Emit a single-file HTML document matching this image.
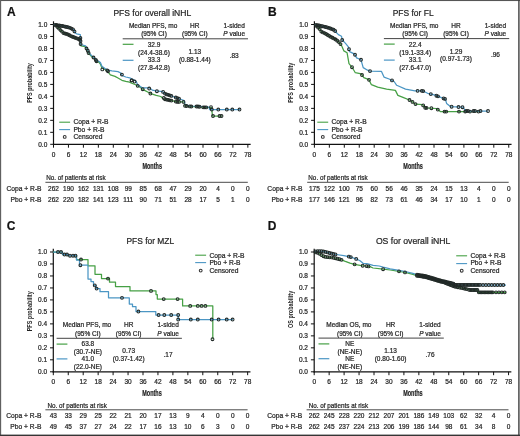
<!DOCTYPE html>
<html><head><meta charset="utf-8"><style>
html,body{margin:0;padding:0;background:#fff;}
body{width:520px;height:436px;overflow:hidden;position:relative;}
svg{position:absolute;left:0;top:0;font-family:"Liberation Sans", sans-serif;will-change:transform;}
text{stroke:#2a2a2a;stroke-width:0.22px;}
.frame{position:absolute;left:0;top:0;width:520px;height:436px;box-sizing:border-box;border-style:solid;border-color:#5a5a5a #7a7a7a #3a3a3a #6a6a6a;border-width:1px 1px 1.5px 1.5px;}
</style></head><body>
<svg width="520" height="436" viewBox="0 0 520 436">
<text x="7.00" y="15.60" font-size="12" text-anchor="start" font-weight="bold" fill="#111" >A</text>
<text x="152.30" y="16.30" font-size="8.5" text-anchor="middle" font-weight="normal" fill="#222" textLength="77.8" lengthAdjust="spacingAndGlyphs">PFS for overall iNHL</text>
<line x1="53.50" y1="21.30" x2="53.50" y2="144.90" stroke="#111" stroke-width="1.2" />
<line x1="52.90" y1="144.30" x2="250.65" y2="144.30" stroke="#111" stroke-width="1.3" />
<line x1="50.20" y1="144.30" x2="53.50" y2="144.30" stroke="#111" stroke-width="1.0" />
<text x="47.30" y="146.60" font-size="6.5" text-anchor="end" font-weight="normal" fill="#222" >0.0</text>
<line x1="50.20" y1="132.32" x2="53.50" y2="132.32" stroke="#111" stroke-width="1.0" />
<text x="47.30" y="134.62" font-size="6.5" text-anchor="end" font-weight="normal" fill="#222" >0.1</text>
<line x1="50.20" y1="120.34" x2="53.50" y2="120.34" stroke="#111" stroke-width="1.0" />
<text x="47.30" y="122.64" font-size="6.5" text-anchor="end" font-weight="normal" fill="#222" >0.2</text>
<line x1="50.20" y1="108.36" x2="53.50" y2="108.36" stroke="#111" stroke-width="1.0" />
<text x="47.30" y="110.66" font-size="6.5" text-anchor="end" font-weight="normal" fill="#222" >0.3</text>
<line x1="50.20" y1="96.38" x2="53.50" y2="96.38" stroke="#111" stroke-width="1.0" />
<text x="47.30" y="98.68" font-size="6.5" text-anchor="end" font-weight="normal" fill="#222" >0.4</text>
<line x1="50.20" y1="84.40" x2="53.50" y2="84.40" stroke="#111" stroke-width="1.0" />
<text x="47.30" y="86.70" font-size="6.5" text-anchor="end" font-weight="normal" fill="#222" >0.5</text>
<line x1="50.20" y1="72.42" x2="53.50" y2="72.42" stroke="#111" stroke-width="1.0" />
<text x="47.30" y="74.72" font-size="6.5" text-anchor="end" font-weight="normal" fill="#222" >0.6</text>
<line x1="50.20" y1="60.44" x2="53.50" y2="60.44" stroke="#111" stroke-width="1.0" />
<text x="47.30" y="62.74" font-size="6.5" text-anchor="end" font-weight="normal" fill="#222" >0.7</text>
<line x1="50.20" y1="48.46" x2="53.50" y2="48.46" stroke="#111" stroke-width="1.0" />
<text x="47.30" y="50.76" font-size="6.5" text-anchor="end" font-weight="normal" fill="#222" >0.8</text>
<line x1="50.20" y1="36.48" x2="53.50" y2="36.48" stroke="#111" stroke-width="1.0" />
<text x="47.30" y="38.78" font-size="6.5" text-anchor="end" font-weight="normal" fill="#222" >0.9</text>
<line x1="50.20" y1="24.50" x2="53.50" y2="24.50" stroke="#111" stroke-width="1.0" />
<text x="47.30" y="26.80" font-size="6.5" text-anchor="end" font-weight="normal" fill="#222" >1.0</text>
<line x1="53.50" y1="144.30" x2="53.50" y2="147.70" stroke="#111" stroke-width="1.0" />
<text x="53.50" y="156.60" font-size="6.5" text-anchor="middle" font-weight="normal" fill="#222" >0</text>
<line x1="68.45" y1="144.30" x2="68.45" y2="147.70" stroke="#111" stroke-width="1.0" />
<text x="68.45" y="156.60" font-size="6.5" text-anchor="middle" font-weight="normal" fill="#222" >6</text>
<line x1="83.40" y1="144.30" x2="83.40" y2="147.70" stroke="#111" stroke-width="1.0" />
<text x="83.40" y="156.60" font-size="6.5" text-anchor="middle" font-weight="normal" fill="#222" >12</text>
<line x1="98.35" y1="144.30" x2="98.35" y2="147.70" stroke="#111" stroke-width="1.0" />
<text x="98.35" y="156.60" font-size="6.5" text-anchor="middle" font-weight="normal" fill="#222" >18</text>
<line x1="113.30" y1="144.30" x2="113.30" y2="147.70" stroke="#111" stroke-width="1.0" />
<text x="113.30" y="156.60" font-size="6.5" text-anchor="middle" font-weight="normal" fill="#222" >24</text>
<line x1="128.25" y1="144.30" x2="128.25" y2="147.70" stroke="#111" stroke-width="1.0" />
<text x="128.25" y="156.60" font-size="6.5" text-anchor="middle" font-weight="normal" fill="#222" >30</text>
<line x1="143.20" y1="144.30" x2="143.20" y2="147.70" stroke="#111" stroke-width="1.0" />
<text x="143.20" y="156.60" font-size="6.5" text-anchor="middle" font-weight="normal" fill="#222" >36</text>
<line x1="158.15" y1="144.30" x2="158.15" y2="147.70" stroke="#111" stroke-width="1.0" />
<text x="158.15" y="156.60" font-size="6.5" text-anchor="middle" font-weight="normal" fill="#222" >42</text>
<line x1="173.10" y1="144.30" x2="173.10" y2="147.70" stroke="#111" stroke-width="1.0" />
<text x="173.10" y="156.60" font-size="6.5" text-anchor="middle" font-weight="normal" fill="#222" >48</text>
<line x1="188.05" y1="144.30" x2="188.05" y2="147.70" stroke="#111" stroke-width="1.0" />
<text x="188.05" y="156.60" font-size="6.5" text-anchor="middle" font-weight="normal" fill="#222" >54</text>
<line x1="203.00" y1="144.30" x2="203.00" y2="147.70" stroke="#111" stroke-width="1.0" />
<text x="203.00" y="156.60" font-size="6.5" text-anchor="middle" font-weight="normal" fill="#222" >60</text>
<line x1="217.95" y1="144.30" x2="217.95" y2="147.70" stroke="#111" stroke-width="1.0" />
<text x="217.95" y="156.60" font-size="6.5" text-anchor="middle" font-weight="normal" fill="#222" >66</text>
<line x1="232.90" y1="144.30" x2="232.90" y2="147.70" stroke="#111" stroke-width="1.0" />
<text x="232.90" y="156.60" font-size="6.5" text-anchor="middle" font-weight="normal" fill="#222" >72</text>
<line x1="247.85" y1="144.30" x2="247.85" y2="147.70" stroke="#111" stroke-width="1.0" />
<text x="247.85" y="156.60" font-size="6.5" text-anchor="middle" font-weight="normal" fill="#222" >78</text>
<text x="152.20" y="168.80" font-size="8.2" text-anchor="middle" font-weight="bold" fill="#222" textLength="19.5" lengthAdjust="spacingAndGlyphs">Months</text>
<text x="0" y="0" font-size="7.9" font-weight="bold" text-anchor="middle" fill="#222" style="stroke-width:0" transform="translate(31.7,83.0) rotate(-90)" textLength="39.7" lengthAdjust="spacingAndGlyphs">PFS probability</text>
<text x="46.20" y="180.00" font-size="6.5" text-anchor="start" font-weight="normal" fill="#222" textLength="59.4" lengthAdjust="spacingAndGlyphs">No. of patients at risk</text>
<line x1="45.40" y1="182.30" x2="247.80" y2="182.30" stroke="#4a4a4a" stroke-width="1.0" />
<text x="41.60" y="190.80" font-size="6.7" text-anchor="end" font-weight="normal" fill="#222" >Copa + R-B</text>
<text x="41.60" y="201.50" font-size="6.7" text-anchor="end" font-weight="normal" fill="#222" >Pbo + R-B</text>
<text x="53.50" y="190.80" font-size="6.5" text-anchor="middle" font-weight="normal" fill="#222" >262</text>
<text x="53.50" y="201.50" font-size="6.5" text-anchor="middle" font-weight="normal" fill="#222" >262</text>
<text x="68.45" y="190.80" font-size="6.5" text-anchor="middle" font-weight="normal" fill="#222" >190</text>
<text x="68.45" y="201.50" font-size="6.5" text-anchor="middle" font-weight="normal" fill="#222" >220</text>
<text x="83.40" y="190.80" font-size="6.5" text-anchor="middle" font-weight="normal" fill="#222" >162</text>
<text x="83.40" y="201.50" font-size="6.5" text-anchor="middle" font-weight="normal" fill="#222" >182</text>
<text x="98.35" y="190.80" font-size="6.5" text-anchor="middle" font-weight="normal" fill="#222" >131</text>
<text x="98.35" y="201.50" font-size="6.5" text-anchor="middle" font-weight="normal" fill="#222" >141</text>
<text x="113.30" y="190.80" font-size="6.5" text-anchor="middle" font-weight="normal" fill="#222" >108</text>
<text x="113.30" y="201.50" font-size="6.5" text-anchor="middle" font-weight="normal" fill="#222" >123</text>
<text x="128.25" y="190.80" font-size="6.5" text-anchor="middle" font-weight="normal" fill="#222" >99</text>
<text x="128.25" y="201.50" font-size="6.5" text-anchor="middle" font-weight="normal" fill="#222" >111</text>
<text x="143.20" y="190.80" font-size="6.5" text-anchor="middle" font-weight="normal" fill="#222" >85</text>
<text x="143.20" y="201.50" font-size="6.5" text-anchor="middle" font-weight="normal" fill="#222" >90</text>
<text x="158.15" y="190.80" font-size="6.5" text-anchor="middle" font-weight="normal" fill="#222" >68</text>
<text x="158.15" y="201.50" font-size="6.5" text-anchor="middle" font-weight="normal" fill="#222" >71</text>
<text x="173.10" y="190.80" font-size="6.5" text-anchor="middle" font-weight="normal" fill="#222" >47</text>
<text x="173.10" y="201.50" font-size="6.5" text-anchor="middle" font-weight="normal" fill="#222" >51</text>
<text x="188.05" y="190.80" font-size="6.5" text-anchor="middle" font-weight="normal" fill="#222" >29</text>
<text x="188.05" y="201.50" font-size="6.5" text-anchor="middle" font-weight="normal" fill="#222" >28</text>
<text x="203.00" y="190.80" font-size="6.5" text-anchor="middle" font-weight="normal" fill="#222" >20</text>
<text x="203.00" y="201.50" font-size="6.5" text-anchor="middle" font-weight="normal" fill="#222" >17</text>
<text x="217.95" y="190.80" font-size="6.5" text-anchor="middle" font-weight="normal" fill="#222" >4</text>
<text x="217.95" y="201.50" font-size="6.5" text-anchor="middle" font-weight="normal" fill="#222" >5</text>
<text x="232.90" y="190.80" font-size="6.5" text-anchor="middle" font-weight="normal" fill="#222" >0</text>
<text x="232.90" y="201.50" font-size="6.5" text-anchor="middle" font-weight="normal" fill="#222" >1</text>
<text x="247.85" y="190.80" font-size="6.5" text-anchor="middle" font-weight="normal" fill="#222" >0</text>
<text x="247.85" y="201.50" font-size="6.5" text-anchor="middle" font-weight="normal" fill="#222" >0</text>
<text x="267.90" y="15.60" font-size="12" text-anchor="start" font-weight="bold" fill="#111" >B</text>
<text x="413.15" y="16.30" font-size="8.5" text-anchor="middle" font-weight="normal" fill="#222" textLength="40.9" lengthAdjust="spacingAndGlyphs">PFS for FL</text>
<line x1="314.40" y1="21.30" x2="314.40" y2="144.90" stroke="#111" stroke-width="1.2" />
<line x1="313.80" y1="144.30" x2="511.55" y2="144.30" stroke="#111" stroke-width="1.3" />
<line x1="311.10" y1="144.30" x2="314.40" y2="144.30" stroke="#111" stroke-width="1.0" />
<text x="308.20" y="146.60" font-size="6.5" text-anchor="end" font-weight="normal" fill="#222" >0.0</text>
<line x1="311.10" y1="132.32" x2="314.40" y2="132.32" stroke="#111" stroke-width="1.0" />
<text x="308.20" y="134.62" font-size="6.5" text-anchor="end" font-weight="normal" fill="#222" >0.1</text>
<line x1="311.10" y1="120.34" x2="314.40" y2="120.34" stroke="#111" stroke-width="1.0" />
<text x="308.20" y="122.64" font-size="6.5" text-anchor="end" font-weight="normal" fill="#222" >0.2</text>
<line x1="311.10" y1="108.36" x2="314.40" y2="108.36" stroke="#111" stroke-width="1.0" />
<text x="308.20" y="110.66" font-size="6.5" text-anchor="end" font-weight="normal" fill="#222" >0.3</text>
<line x1="311.10" y1="96.38" x2="314.40" y2="96.38" stroke="#111" stroke-width="1.0" />
<text x="308.20" y="98.68" font-size="6.5" text-anchor="end" font-weight="normal" fill="#222" >0.4</text>
<line x1="311.10" y1="84.40" x2="314.40" y2="84.40" stroke="#111" stroke-width="1.0" />
<text x="308.20" y="86.70" font-size="6.5" text-anchor="end" font-weight="normal" fill="#222" >0.5</text>
<line x1="311.10" y1="72.42" x2="314.40" y2="72.42" stroke="#111" stroke-width="1.0" />
<text x="308.20" y="74.72" font-size="6.5" text-anchor="end" font-weight="normal" fill="#222" >0.6</text>
<line x1="311.10" y1="60.44" x2="314.40" y2="60.44" stroke="#111" stroke-width="1.0" />
<text x="308.20" y="62.74" font-size="6.5" text-anchor="end" font-weight="normal" fill="#222" >0.7</text>
<line x1="311.10" y1="48.46" x2="314.40" y2="48.46" stroke="#111" stroke-width="1.0" />
<text x="308.20" y="50.76" font-size="6.5" text-anchor="end" font-weight="normal" fill="#222" >0.8</text>
<line x1="311.10" y1="36.48" x2="314.40" y2="36.48" stroke="#111" stroke-width="1.0" />
<text x="308.20" y="38.78" font-size="6.5" text-anchor="end" font-weight="normal" fill="#222" >0.9</text>
<line x1="311.10" y1="24.50" x2="314.40" y2="24.50" stroke="#111" stroke-width="1.0" />
<text x="308.20" y="26.80" font-size="6.5" text-anchor="end" font-weight="normal" fill="#222" >1.0</text>
<line x1="314.40" y1="144.30" x2="314.40" y2="147.70" stroke="#111" stroke-width="1.0" />
<text x="314.40" y="156.60" font-size="6.5" text-anchor="middle" font-weight="normal" fill="#222" >0</text>
<line x1="329.35" y1="144.30" x2="329.35" y2="147.70" stroke="#111" stroke-width="1.0" />
<text x="329.35" y="156.60" font-size="6.5" text-anchor="middle" font-weight="normal" fill="#222" >6</text>
<line x1="344.30" y1="144.30" x2="344.30" y2="147.70" stroke="#111" stroke-width="1.0" />
<text x="344.30" y="156.60" font-size="6.5" text-anchor="middle" font-weight="normal" fill="#222" >12</text>
<line x1="359.25" y1="144.30" x2="359.25" y2="147.70" stroke="#111" stroke-width="1.0" />
<text x="359.25" y="156.60" font-size="6.5" text-anchor="middle" font-weight="normal" fill="#222" >18</text>
<line x1="374.20" y1="144.30" x2="374.20" y2="147.70" stroke="#111" stroke-width="1.0" />
<text x="374.20" y="156.60" font-size="6.5" text-anchor="middle" font-weight="normal" fill="#222" >24</text>
<line x1="389.15" y1="144.30" x2="389.15" y2="147.70" stroke="#111" stroke-width="1.0" />
<text x="389.15" y="156.60" font-size="6.5" text-anchor="middle" font-weight="normal" fill="#222" >30</text>
<line x1="404.10" y1="144.30" x2="404.10" y2="147.70" stroke="#111" stroke-width="1.0" />
<text x="404.10" y="156.60" font-size="6.5" text-anchor="middle" font-weight="normal" fill="#222" >36</text>
<line x1="419.05" y1="144.30" x2="419.05" y2="147.70" stroke="#111" stroke-width="1.0" />
<text x="419.05" y="156.60" font-size="6.5" text-anchor="middle" font-weight="normal" fill="#222" >42</text>
<line x1="434.00" y1="144.30" x2="434.00" y2="147.70" stroke="#111" stroke-width="1.0" />
<text x="434.00" y="156.60" font-size="6.5" text-anchor="middle" font-weight="normal" fill="#222" >48</text>
<line x1="448.95" y1="144.30" x2="448.95" y2="147.70" stroke="#111" stroke-width="1.0" />
<text x="448.95" y="156.60" font-size="6.5" text-anchor="middle" font-weight="normal" fill="#222" >54</text>
<line x1="463.90" y1="144.30" x2="463.90" y2="147.70" stroke="#111" stroke-width="1.0" />
<text x="463.90" y="156.60" font-size="6.5" text-anchor="middle" font-weight="normal" fill="#222" >60</text>
<line x1="478.85" y1="144.30" x2="478.85" y2="147.70" stroke="#111" stroke-width="1.0" />
<text x="478.85" y="156.60" font-size="6.5" text-anchor="middle" font-weight="normal" fill="#222" >66</text>
<line x1="493.80" y1="144.30" x2="493.80" y2="147.70" stroke="#111" stroke-width="1.0" />
<text x="493.80" y="156.60" font-size="6.5" text-anchor="middle" font-weight="normal" fill="#222" >72</text>
<line x1="508.75" y1="144.30" x2="508.75" y2="147.70" stroke="#111" stroke-width="1.0" />
<text x="508.75" y="156.60" font-size="6.5" text-anchor="middle" font-weight="normal" fill="#222" >78</text>
<text x="413.10" y="168.80" font-size="8.2" text-anchor="middle" font-weight="bold" fill="#222" textLength="19.5" lengthAdjust="spacingAndGlyphs">Months</text>
<text x="0" y="0" font-size="7.9" font-weight="bold" text-anchor="middle" fill="#222" style="stroke-width:0" transform="translate(292.7,82.7) rotate(-90)" textLength="40.0" lengthAdjust="spacingAndGlyphs">PFS probability</text>
<text x="308.30" y="180.00" font-size="6.5" text-anchor="start" font-weight="normal" fill="#222" textLength="59.4" lengthAdjust="spacingAndGlyphs">No. of patients at risk</text>
<line x1="307.20" y1="182.30" x2="508.70" y2="182.30" stroke="#4a4a4a" stroke-width="1.0" />
<text x="302.50" y="190.80" font-size="6.7" text-anchor="end" font-weight="normal" fill="#222" >Copa + R-B</text>
<text x="302.50" y="201.50" font-size="6.7" text-anchor="end" font-weight="normal" fill="#222" >Pbo + R-B</text>
<text x="314.40" y="190.80" font-size="6.5" text-anchor="middle" font-weight="normal" fill="#222" >175</text>
<text x="314.40" y="201.50" font-size="6.5" text-anchor="middle" font-weight="normal" fill="#222" >177</text>
<text x="329.35" y="190.80" font-size="6.5" text-anchor="middle" font-weight="normal" fill="#222" >122</text>
<text x="329.35" y="201.50" font-size="6.5" text-anchor="middle" font-weight="normal" fill="#222" >146</text>
<text x="344.30" y="190.80" font-size="6.5" text-anchor="middle" font-weight="normal" fill="#222" >100</text>
<text x="344.30" y="201.50" font-size="6.5" text-anchor="middle" font-weight="normal" fill="#222" >121</text>
<text x="359.25" y="190.80" font-size="6.5" text-anchor="middle" font-weight="normal" fill="#222" >75</text>
<text x="359.25" y="201.50" font-size="6.5" text-anchor="middle" font-weight="normal" fill="#222" >96</text>
<text x="374.20" y="190.80" font-size="6.5" text-anchor="middle" font-weight="normal" fill="#222" >60</text>
<text x="374.20" y="201.50" font-size="6.5" text-anchor="middle" font-weight="normal" fill="#222" >82</text>
<text x="389.15" y="190.80" font-size="6.5" text-anchor="middle" font-weight="normal" fill="#222" >56</text>
<text x="389.15" y="201.50" font-size="6.5" text-anchor="middle" font-weight="normal" fill="#222" >73</text>
<text x="404.10" y="190.80" font-size="6.5" text-anchor="middle" font-weight="normal" fill="#222" >46</text>
<text x="404.10" y="201.50" font-size="6.5" text-anchor="middle" font-weight="normal" fill="#222" >61</text>
<text x="419.05" y="190.80" font-size="6.5" text-anchor="middle" font-weight="normal" fill="#222" >35</text>
<text x="419.05" y="201.50" font-size="6.5" text-anchor="middle" font-weight="normal" fill="#222" >46</text>
<text x="434.00" y="190.80" font-size="6.5" text-anchor="middle" font-weight="normal" fill="#222" >24</text>
<text x="434.00" y="201.50" font-size="6.5" text-anchor="middle" font-weight="normal" fill="#222" >34</text>
<text x="448.95" y="190.80" font-size="6.5" text-anchor="middle" font-weight="normal" fill="#222" >15</text>
<text x="448.95" y="201.50" font-size="6.5" text-anchor="middle" font-weight="normal" fill="#222" >17</text>
<text x="463.90" y="190.80" font-size="6.5" text-anchor="middle" font-weight="normal" fill="#222" >13</text>
<text x="463.90" y="201.50" font-size="6.5" text-anchor="middle" font-weight="normal" fill="#222" >10</text>
<text x="478.85" y="190.80" font-size="6.5" text-anchor="middle" font-weight="normal" fill="#222" >4</text>
<text x="478.85" y="201.50" font-size="6.5" text-anchor="middle" font-weight="normal" fill="#222" >1</text>
<text x="493.80" y="190.80" font-size="6.5" text-anchor="middle" font-weight="normal" fill="#222" >0</text>
<text x="493.80" y="201.50" font-size="6.5" text-anchor="middle" font-weight="normal" fill="#222" >0</text>
<text x="508.75" y="190.80" font-size="6.5" text-anchor="middle" font-weight="normal" fill="#222" >0</text>
<text x="508.75" y="201.50" font-size="6.5" text-anchor="middle" font-weight="normal" fill="#222" >0</text>
<text x="6.80" y="229.50" font-size="12" text-anchor="start" font-weight="bold" fill="#111" >C</text>
<text x="150.35" y="243.80" font-size="8.5" text-anchor="middle" font-weight="normal" fill="#222" textLength="47.7" lengthAdjust="spacingAndGlyphs">PFS for MZL</text>
<line x1="53.30" y1="248.80" x2="53.30" y2="372.40" stroke="#111" stroke-width="1.2" />
<line x1="52.70" y1="371.80" x2="250.45" y2="371.80" stroke="#111" stroke-width="1.3" />
<line x1="50.00" y1="371.80" x2="53.30" y2="371.80" stroke="#111" stroke-width="1.0" />
<text x="47.10" y="374.10" font-size="6.5" text-anchor="end" font-weight="normal" fill="#222" >0.0</text>
<line x1="50.00" y1="359.82" x2="53.30" y2="359.82" stroke="#111" stroke-width="1.0" />
<text x="47.10" y="362.12" font-size="6.5" text-anchor="end" font-weight="normal" fill="#222" >0.1</text>
<line x1="50.00" y1="347.84" x2="53.30" y2="347.84" stroke="#111" stroke-width="1.0" />
<text x="47.10" y="350.14" font-size="6.5" text-anchor="end" font-weight="normal" fill="#222" >0.2</text>
<line x1="50.00" y1="335.86" x2="53.30" y2="335.86" stroke="#111" stroke-width="1.0" />
<text x="47.10" y="338.16" font-size="6.5" text-anchor="end" font-weight="normal" fill="#222" >0.3</text>
<line x1="50.00" y1="323.88" x2="53.30" y2="323.88" stroke="#111" stroke-width="1.0" />
<text x="47.10" y="326.18" font-size="6.5" text-anchor="end" font-weight="normal" fill="#222" >0.4</text>
<line x1="50.00" y1="311.90" x2="53.30" y2="311.90" stroke="#111" stroke-width="1.0" />
<text x="47.10" y="314.20" font-size="6.5" text-anchor="end" font-weight="normal" fill="#222" >0.5</text>
<line x1="50.00" y1="299.92" x2="53.30" y2="299.92" stroke="#111" stroke-width="1.0" />
<text x="47.10" y="302.22" font-size="6.5" text-anchor="end" font-weight="normal" fill="#222" >0.6</text>
<line x1="50.00" y1="287.94" x2="53.30" y2="287.94" stroke="#111" stroke-width="1.0" />
<text x="47.10" y="290.24" font-size="6.5" text-anchor="end" font-weight="normal" fill="#222" >0.7</text>
<line x1="50.00" y1="275.96" x2="53.30" y2="275.96" stroke="#111" stroke-width="1.0" />
<text x="47.10" y="278.26" font-size="6.5" text-anchor="end" font-weight="normal" fill="#222" >0.8</text>
<line x1="50.00" y1="263.98" x2="53.30" y2="263.98" stroke="#111" stroke-width="1.0" />
<text x="47.10" y="266.28" font-size="6.5" text-anchor="end" font-weight="normal" fill="#222" >0.9</text>
<line x1="50.00" y1="252.00" x2="53.30" y2="252.00" stroke="#111" stroke-width="1.0" />
<text x="47.10" y="254.30" font-size="6.5" text-anchor="end" font-weight="normal" fill="#222" >1.0</text>
<line x1="53.30" y1="371.80" x2="53.30" y2="375.20" stroke="#111" stroke-width="1.0" />
<text x="53.30" y="384.10" font-size="6.5" text-anchor="middle" font-weight="normal" fill="#222" >0</text>
<line x1="68.25" y1="371.80" x2="68.25" y2="375.20" stroke="#111" stroke-width="1.0" />
<text x="68.25" y="384.10" font-size="6.5" text-anchor="middle" font-weight="normal" fill="#222" >6</text>
<line x1="83.20" y1="371.80" x2="83.20" y2="375.20" stroke="#111" stroke-width="1.0" />
<text x="83.20" y="384.10" font-size="6.5" text-anchor="middle" font-weight="normal" fill="#222" >12</text>
<line x1="98.15" y1="371.80" x2="98.15" y2="375.20" stroke="#111" stroke-width="1.0" />
<text x="98.15" y="384.10" font-size="6.5" text-anchor="middle" font-weight="normal" fill="#222" >18</text>
<line x1="113.10" y1="371.80" x2="113.10" y2="375.20" stroke="#111" stroke-width="1.0" />
<text x="113.10" y="384.10" font-size="6.5" text-anchor="middle" font-weight="normal" fill="#222" >24</text>
<line x1="128.05" y1="371.80" x2="128.05" y2="375.20" stroke="#111" stroke-width="1.0" />
<text x="128.05" y="384.10" font-size="6.5" text-anchor="middle" font-weight="normal" fill="#222" >30</text>
<line x1="143.00" y1="371.80" x2="143.00" y2="375.20" stroke="#111" stroke-width="1.0" />
<text x="143.00" y="384.10" font-size="6.5" text-anchor="middle" font-weight="normal" fill="#222" >36</text>
<line x1="157.95" y1="371.80" x2="157.95" y2="375.20" stroke="#111" stroke-width="1.0" />
<text x="157.95" y="384.10" font-size="6.5" text-anchor="middle" font-weight="normal" fill="#222" >42</text>
<line x1="172.90" y1="371.80" x2="172.90" y2="375.20" stroke="#111" stroke-width="1.0" />
<text x="172.90" y="384.10" font-size="6.5" text-anchor="middle" font-weight="normal" fill="#222" >48</text>
<line x1="187.85" y1="371.80" x2="187.85" y2="375.20" stroke="#111" stroke-width="1.0" />
<text x="187.85" y="384.10" font-size="6.5" text-anchor="middle" font-weight="normal" fill="#222" >54</text>
<line x1="202.80" y1="371.80" x2="202.80" y2="375.20" stroke="#111" stroke-width="1.0" />
<text x="202.80" y="384.10" font-size="6.5" text-anchor="middle" font-weight="normal" fill="#222" >60</text>
<line x1="217.75" y1="371.80" x2="217.75" y2="375.20" stroke="#111" stroke-width="1.0" />
<text x="217.75" y="384.10" font-size="6.5" text-anchor="middle" font-weight="normal" fill="#222" >66</text>
<line x1="232.70" y1="371.80" x2="232.70" y2="375.20" stroke="#111" stroke-width="1.0" />
<text x="232.70" y="384.10" font-size="6.5" text-anchor="middle" font-weight="normal" fill="#222" >72</text>
<line x1="247.65" y1="371.80" x2="247.65" y2="375.20" stroke="#111" stroke-width="1.0" />
<text x="247.65" y="384.10" font-size="6.5" text-anchor="middle" font-weight="normal" fill="#222" >78</text>
<text x="152.00" y="396.30" font-size="8.2" text-anchor="middle" font-weight="bold" fill="#222" textLength="19.5" lengthAdjust="spacingAndGlyphs">Months</text>
<text x="0" y="0" font-size="7.9" font-weight="bold" text-anchor="middle" fill="#222" style="stroke-width:0" transform="translate(31.7,311.3) rotate(-90)" textLength="40.0" lengthAdjust="spacingAndGlyphs">PFS probability</text>
<text x="47.50" y="407.50" font-size="6.5" text-anchor="start" font-weight="normal" fill="#222" textLength="59.4" lengthAdjust="spacingAndGlyphs">No. of patients at risk</text>
<line x1="45.40" y1="409.80" x2="247.60" y2="409.80" stroke="#4a4a4a" stroke-width="1.0" />
<text x="41.40" y="418.30" font-size="6.7" text-anchor="end" font-weight="normal" fill="#222" >Copa + R-B</text>
<text x="41.40" y="429.00" font-size="6.7" text-anchor="end" font-weight="normal" fill="#222" >Pbo + R-B</text>
<text x="53.30" y="418.30" font-size="6.5" text-anchor="middle" font-weight="normal" fill="#222" >43</text>
<text x="53.30" y="429.00" font-size="6.5" text-anchor="middle" font-weight="normal" fill="#222" >49</text>
<text x="68.25" y="418.30" font-size="6.5" text-anchor="middle" font-weight="normal" fill="#222" >33</text>
<text x="68.25" y="429.00" font-size="6.5" text-anchor="middle" font-weight="normal" fill="#222" >45</text>
<text x="83.20" y="418.30" font-size="6.5" text-anchor="middle" font-weight="normal" fill="#222" >29</text>
<text x="83.20" y="429.00" font-size="6.5" text-anchor="middle" font-weight="normal" fill="#222" >37</text>
<text x="98.15" y="418.30" font-size="6.5" text-anchor="middle" font-weight="normal" fill="#222" >25</text>
<text x="98.15" y="429.00" font-size="6.5" text-anchor="middle" font-weight="normal" fill="#222" >27</text>
<text x="113.10" y="418.30" font-size="6.5" text-anchor="middle" font-weight="normal" fill="#222" >22</text>
<text x="113.10" y="429.00" font-size="6.5" text-anchor="middle" font-weight="normal" fill="#222" >24</text>
<text x="128.05" y="418.30" font-size="6.5" text-anchor="middle" font-weight="normal" fill="#222" >21</text>
<text x="128.05" y="429.00" font-size="6.5" text-anchor="middle" font-weight="normal" fill="#222" >22</text>
<text x="143.00" y="418.30" font-size="6.5" text-anchor="middle" font-weight="normal" fill="#222" >20</text>
<text x="143.00" y="429.00" font-size="6.5" text-anchor="middle" font-weight="normal" fill="#222" >17</text>
<text x="157.95" y="418.30" font-size="6.5" text-anchor="middle" font-weight="normal" fill="#222" >17</text>
<text x="157.95" y="429.00" font-size="6.5" text-anchor="middle" font-weight="normal" fill="#222" >16</text>
<text x="172.90" y="418.30" font-size="6.5" text-anchor="middle" font-weight="normal" fill="#222" >13</text>
<text x="172.90" y="429.00" font-size="6.5" text-anchor="middle" font-weight="normal" fill="#222" >13</text>
<text x="187.85" y="418.30" font-size="6.5" text-anchor="middle" font-weight="normal" fill="#222" >9</text>
<text x="187.85" y="429.00" font-size="6.5" text-anchor="middle" font-weight="normal" fill="#222" >10</text>
<text x="202.80" y="418.30" font-size="6.5" text-anchor="middle" font-weight="normal" fill="#222" >4</text>
<text x="202.80" y="429.00" font-size="6.5" text-anchor="middle" font-weight="normal" fill="#222" >6</text>
<text x="217.75" y="418.30" font-size="6.5" text-anchor="middle" font-weight="normal" fill="#222" >0</text>
<text x="217.75" y="429.00" font-size="6.5" text-anchor="middle" font-weight="normal" fill="#222" >3</text>
<text x="232.70" y="418.30" font-size="6.5" text-anchor="middle" font-weight="normal" fill="#222" >0</text>
<text x="232.70" y="429.00" font-size="6.5" text-anchor="middle" font-weight="normal" fill="#222" >0</text>
<text x="247.65" y="418.30" font-size="6.5" text-anchor="middle" font-weight="normal" fill="#222" >0</text>
<text x="247.65" y="429.00" font-size="6.5" text-anchor="middle" font-weight="normal" fill="#222" >0</text>
<text x="267.70" y="229.50" font-size="12" text-anchor="start" font-weight="bold" fill="#111" >D</text>
<text x="413.15" y="243.80" font-size="8.5" text-anchor="middle" font-weight="normal" fill="#222" textLength="74.5" lengthAdjust="spacingAndGlyphs">OS for overall iNHL</text>
<line x1="314.20" y1="248.80" x2="314.20" y2="372.40" stroke="#111" stroke-width="1.2" />
<line x1="313.60" y1="371.80" x2="511.35" y2="371.80" stroke="#111" stroke-width="1.3" />
<line x1="310.90" y1="371.80" x2="314.20" y2="371.80" stroke="#111" stroke-width="1.0" />
<text x="308.00" y="374.10" font-size="6.5" text-anchor="end" font-weight="normal" fill="#222" >0.0</text>
<line x1="310.90" y1="359.82" x2="314.20" y2="359.82" stroke="#111" stroke-width="1.0" />
<text x="308.00" y="362.12" font-size="6.5" text-anchor="end" font-weight="normal" fill="#222" >0.1</text>
<line x1="310.90" y1="347.84" x2="314.20" y2="347.84" stroke="#111" stroke-width="1.0" />
<text x="308.00" y="350.14" font-size="6.5" text-anchor="end" font-weight="normal" fill="#222" >0.2</text>
<line x1="310.90" y1="335.86" x2="314.20" y2="335.86" stroke="#111" stroke-width="1.0" />
<text x="308.00" y="338.16" font-size="6.5" text-anchor="end" font-weight="normal" fill="#222" >0.3</text>
<line x1="310.90" y1="323.88" x2="314.20" y2="323.88" stroke="#111" stroke-width="1.0" />
<text x="308.00" y="326.18" font-size="6.5" text-anchor="end" font-weight="normal" fill="#222" >0.4</text>
<line x1="310.90" y1="311.90" x2="314.20" y2="311.90" stroke="#111" stroke-width="1.0" />
<text x="308.00" y="314.20" font-size="6.5" text-anchor="end" font-weight="normal" fill="#222" >0.5</text>
<line x1="310.90" y1="299.92" x2="314.20" y2="299.92" stroke="#111" stroke-width="1.0" />
<text x="308.00" y="302.22" font-size="6.5" text-anchor="end" font-weight="normal" fill="#222" >0.6</text>
<line x1="310.90" y1="287.94" x2="314.20" y2="287.94" stroke="#111" stroke-width="1.0" />
<text x="308.00" y="290.24" font-size="6.5" text-anchor="end" font-weight="normal" fill="#222" >0.7</text>
<line x1="310.90" y1="275.96" x2="314.20" y2="275.96" stroke="#111" stroke-width="1.0" />
<text x="308.00" y="278.26" font-size="6.5" text-anchor="end" font-weight="normal" fill="#222" >0.8</text>
<line x1="310.90" y1="263.98" x2="314.20" y2="263.98" stroke="#111" stroke-width="1.0" />
<text x="308.00" y="266.28" font-size="6.5" text-anchor="end" font-weight="normal" fill="#222" >0.9</text>
<line x1="310.90" y1="252.00" x2="314.20" y2="252.00" stroke="#111" stroke-width="1.0" />
<text x="308.00" y="254.30" font-size="6.5" text-anchor="end" font-weight="normal" fill="#222" >1.0</text>
<line x1="314.20" y1="371.80" x2="314.20" y2="375.20" stroke="#111" stroke-width="1.0" />
<text x="314.20" y="384.10" font-size="6.5" text-anchor="middle" font-weight="normal" fill="#222" >0</text>
<line x1="329.15" y1="371.80" x2="329.15" y2="375.20" stroke="#111" stroke-width="1.0" />
<text x="329.15" y="384.10" font-size="6.5" text-anchor="middle" font-weight="normal" fill="#222" >6</text>
<line x1="344.10" y1="371.80" x2="344.10" y2="375.20" stroke="#111" stroke-width="1.0" />
<text x="344.10" y="384.10" font-size="6.5" text-anchor="middle" font-weight="normal" fill="#222" >12</text>
<line x1="359.05" y1="371.80" x2="359.05" y2="375.20" stroke="#111" stroke-width="1.0" />
<text x="359.05" y="384.10" font-size="6.5" text-anchor="middle" font-weight="normal" fill="#222" >18</text>
<line x1="374.00" y1="371.80" x2="374.00" y2="375.20" stroke="#111" stroke-width="1.0" />
<text x="374.00" y="384.10" font-size="6.5" text-anchor="middle" font-weight="normal" fill="#222" >24</text>
<line x1="388.95" y1="371.80" x2="388.95" y2="375.20" stroke="#111" stroke-width="1.0" />
<text x="388.95" y="384.10" font-size="6.5" text-anchor="middle" font-weight="normal" fill="#222" >30</text>
<line x1="403.90" y1="371.80" x2="403.90" y2="375.20" stroke="#111" stroke-width="1.0" />
<text x="403.90" y="384.10" font-size="6.5" text-anchor="middle" font-weight="normal" fill="#222" >36</text>
<line x1="418.85" y1="371.80" x2="418.85" y2="375.20" stroke="#111" stroke-width="1.0" />
<text x="418.85" y="384.10" font-size="6.5" text-anchor="middle" font-weight="normal" fill="#222" >42</text>
<line x1="433.80" y1="371.80" x2="433.80" y2="375.20" stroke="#111" stroke-width="1.0" />
<text x="433.80" y="384.10" font-size="6.5" text-anchor="middle" font-weight="normal" fill="#222" >48</text>
<line x1="448.75" y1="371.80" x2="448.75" y2="375.20" stroke="#111" stroke-width="1.0" />
<text x="448.75" y="384.10" font-size="6.5" text-anchor="middle" font-weight="normal" fill="#222" >54</text>
<line x1="463.70" y1="371.80" x2="463.70" y2="375.20" stroke="#111" stroke-width="1.0" />
<text x="463.70" y="384.10" font-size="6.5" text-anchor="middle" font-weight="normal" fill="#222" >60</text>
<line x1="478.65" y1="371.80" x2="478.65" y2="375.20" stroke="#111" stroke-width="1.0" />
<text x="478.65" y="384.10" font-size="6.5" text-anchor="middle" font-weight="normal" fill="#222" >66</text>
<line x1="493.60" y1="371.80" x2="493.60" y2="375.20" stroke="#111" stroke-width="1.0" />
<text x="493.60" y="384.10" font-size="6.5" text-anchor="middle" font-weight="normal" fill="#222" >72</text>
<line x1="508.55" y1="371.80" x2="508.55" y2="375.20" stroke="#111" stroke-width="1.0" />
<text x="508.55" y="384.10" font-size="6.5" text-anchor="middle" font-weight="normal" fill="#222" >78</text>
<text x="412.90" y="396.30" font-size="8.2" text-anchor="middle" font-weight="bold" fill="#222" textLength="19.5" lengthAdjust="spacingAndGlyphs">Months</text>
<text x="0" y="0" font-size="7.9" font-weight="bold" text-anchor="middle" fill="#222" style="stroke-width:0" transform="translate(292.7,309.4) rotate(-90)" textLength="37.2" lengthAdjust="spacingAndGlyphs">OS probability</text>
<text x="308.70" y="407.50" font-size="6.5" text-anchor="start" font-weight="normal" fill="#222" textLength="59.4" lengthAdjust="spacingAndGlyphs">No. of patients at risk</text>
<line x1="306.60" y1="409.80" x2="508.50" y2="409.80" stroke="#4a4a4a" stroke-width="1.0" />
<text x="302.30" y="418.30" font-size="6.7" text-anchor="end" font-weight="normal" fill="#222" >Copa + R-B</text>
<text x="302.30" y="429.00" font-size="6.7" text-anchor="end" font-weight="normal" fill="#222" >Pbo + R-B</text>
<text x="314.20" y="418.30" font-size="6.5" text-anchor="middle" font-weight="normal" fill="#222" >262</text>
<text x="314.20" y="429.00" font-size="6.5" text-anchor="middle" font-weight="normal" fill="#222" >262</text>
<text x="329.15" y="418.30" font-size="6.5" text-anchor="middle" font-weight="normal" fill="#222" >245</text>
<text x="329.15" y="429.00" font-size="6.5" text-anchor="middle" font-weight="normal" fill="#222" >245</text>
<text x="344.10" y="418.30" font-size="6.5" text-anchor="middle" font-weight="normal" fill="#222" >228</text>
<text x="344.10" y="429.00" font-size="6.5" text-anchor="middle" font-weight="normal" fill="#222" >237</text>
<text x="359.05" y="418.30" font-size="6.5" text-anchor="middle" font-weight="normal" fill="#222" >220</text>
<text x="359.05" y="429.00" font-size="6.5" text-anchor="middle" font-weight="normal" fill="#222" >224</text>
<text x="374.00" y="418.30" font-size="6.5" text-anchor="middle" font-weight="normal" fill="#222" >212</text>
<text x="374.00" y="429.00" font-size="6.5" text-anchor="middle" font-weight="normal" fill="#222" >213</text>
<text x="388.95" y="418.30" font-size="6.5" text-anchor="middle" font-weight="normal" fill="#222" >207</text>
<text x="388.95" y="429.00" font-size="6.5" text-anchor="middle" font-weight="normal" fill="#222" >206</text>
<text x="403.90" y="418.30" font-size="6.5" text-anchor="middle" font-weight="normal" fill="#222" >201</text>
<text x="403.90" y="429.00" font-size="6.5" text-anchor="middle" font-weight="normal" fill="#222" >199</text>
<text x="418.85" y="418.30" font-size="6.5" text-anchor="middle" font-weight="normal" fill="#222" >186</text>
<text x="418.85" y="429.00" font-size="6.5" text-anchor="middle" font-weight="normal" fill="#222" >186</text>
<text x="433.80" y="418.30" font-size="6.5" text-anchor="middle" font-weight="normal" fill="#222" >149</text>
<text x="433.80" y="429.00" font-size="6.5" text-anchor="middle" font-weight="normal" fill="#222" >144</text>
<text x="448.75" y="418.30" font-size="6.5" text-anchor="middle" font-weight="normal" fill="#222" >103</text>
<text x="448.75" y="429.00" font-size="6.5" text-anchor="middle" font-weight="normal" fill="#222" >98</text>
<text x="463.70" y="418.30" font-size="6.5" text-anchor="middle" font-weight="normal" fill="#222" >62</text>
<text x="463.70" y="429.00" font-size="6.5" text-anchor="middle" font-weight="normal" fill="#222" >61</text>
<text x="478.65" y="418.30" font-size="6.5" text-anchor="middle" font-weight="normal" fill="#222" >32</text>
<text x="478.65" y="429.00" font-size="6.5" text-anchor="middle" font-weight="normal" fill="#222" >34</text>
<text x="493.60" y="418.30" font-size="6.5" text-anchor="middle" font-weight="normal" fill="#222" >4</text>
<text x="493.60" y="429.00" font-size="6.5" text-anchor="middle" font-weight="normal" fill="#222" >8</text>
<text x="508.55" y="418.30" font-size="6.5" text-anchor="middle" font-weight="normal" fill="#222" >0</text>
<text x="508.55" y="429.00" font-size="6.5" text-anchor="middle" font-weight="normal" fill="#222" >0</text>
<line x1="59.20" y1="122.20" x2="70.10" y2="122.20" stroke="#46a045" stroke-width="1.1" />
<line x1="59.20" y1="129.60" x2="70.10" y2="129.60" stroke="#4b96c4" stroke-width="1.1" />
<circle cx="64.7" cy="136.9" r="1.4" fill="none" stroke="#333" stroke-width="1.05"/>
<text x="73.40" y="124.20" font-size="6.7" text-anchor="start" font-weight="normal" fill="#222" >Copa + R-B</text>
<text x="73.40" y="131.65" font-size="6.7" text-anchor="start" font-weight="normal" fill="#222" >Pbo + R-B</text>
<text x="73.40" y="138.90" font-size="6.7" text-anchor="start" font-weight="normal" fill="#222" >Censored</text>
<line x1="317.30" y1="122.20" x2="328.20" y2="122.20" stroke="#46a045" stroke-width="1.1" />
<line x1="317.30" y1="129.60" x2="328.20" y2="129.60" stroke="#4b96c4" stroke-width="1.1" />
<circle cx="322.8" cy="136.9" r="1.4" fill="none" stroke="#333" stroke-width="1.05"/>
<text x="331.50" y="124.20" font-size="6.7" text-anchor="start" font-weight="normal" fill="#222" >Copa + R-B</text>
<text x="331.50" y="131.65" font-size="6.7" text-anchor="start" font-weight="normal" fill="#222" >Pbo + R-B</text>
<text x="331.50" y="138.90" font-size="6.7" text-anchor="start" font-weight="normal" fill="#222" >Censored</text>
<line x1="195.20" y1="255.20" x2="206.10" y2="255.20" stroke="#46a045" stroke-width="1.1" />
<line x1="195.20" y1="262.60" x2="206.10" y2="262.60" stroke="#4b96c4" stroke-width="1.1" />
<circle cx="200.7" cy="270.6" r="1.4" fill="none" stroke="#333" stroke-width="1.05"/>
<text x="209.40" y="257.90" font-size="6.7" text-anchor="start" font-weight="normal" fill="#222" >Copa + R-B</text>
<text x="209.40" y="265.35" font-size="6.7" text-anchor="start" font-weight="normal" fill="#222" >Pbo + R-B</text>
<text x="209.40" y="272.60" font-size="6.7" text-anchor="start" font-weight="normal" fill="#222" >Censored</text>
<line x1="456.20" y1="255.80" x2="467.10" y2="255.80" stroke="#46a045" stroke-width="1.1" />
<line x1="456.20" y1="263.60" x2="467.10" y2="263.60" stroke="#4b96c4" stroke-width="1.1" />
<circle cx="461.7" cy="270.7" r="1.4" fill="none" stroke="#333" stroke-width="1.05"/>
<text x="470.40" y="258.00" font-size="6.7" text-anchor="start" font-weight="normal" fill="#222" >Copa + R-B</text>
<text x="470.40" y="265.45" font-size="6.7" text-anchor="start" font-weight="normal" fill="#222" >Pbo + R-B</text>
<text x="470.40" y="272.70" font-size="6.7" text-anchor="start" font-weight="normal" fill="#222" >Censored</text>
<text x="153.10" y="28.10" font-size="6.5" text-anchor="middle" font-weight="normal" fill="#222" >Median PFS, mo</text>
<text x="154.00" y="36.20" font-size="6.5" text-anchor="middle" font-weight="normal" fill="#222" >(95% CI)</text>
<text x="194.80" y="28.10" font-size="6.5" text-anchor="middle" font-weight="normal" fill="#222" >HR</text>
<text x="194.80" y="36.20" font-size="6.5" text-anchor="middle" font-weight="normal" fill="#222" >(95% CI)</text>
<text x="234.20" y="28.10" font-size="6.5" text-anchor="middle" font-weight="normal" fill="#222" >1-sided</text>
<text x="234.20" y="36.20" font-size="6.5" text-anchor="middle" fill="#222"><tspan font-style="italic">P</tspan> value</text>
<line x1="122.70" y1="38.80" x2="248.00" y2="38.80" stroke="#444" stroke-width="1.0" />
<line x1="122.70" y1="44.30" x2="133.50" y2="44.30" stroke="#46a045" stroke-width="1.2" />
<line x1="122.70" y1="60.30" x2="133.50" y2="60.30" stroke="#4b96c4" stroke-width="1.2" />
<text x="154.00" y="46.85" font-size="6.5" text-anchor="middle" font-weight="normal" fill="#222" >32.9</text>
<text x="154.00" y="54.70" font-size="6.5" text-anchor="middle" font-weight="normal" fill="#222" >(24.4-38.6)</text>
<text x="154.00" y="62.20" font-size="6.5" text-anchor="middle" font-weight="normal" fill="#222" >33.3</text>
<text x="154.00" y="70.10" font-size="6.5" text-anchor="middle" font-weight="normal" fill="#222" >(27.8-42.8)</text>
<text x="194.80" y="53.90" font-size="6.5" text-anchor="middle" font-weight="normal" fill="#222" >1.13</text>
<text x="194.80" y="61.60" font-size="6.5" text-anchor="middle" font-weight="normal" fill="#222" >(0.88-1.44)</text>
<text x="234.20" y="57.50" font-size="6.5" text-anchor="middle" font-weight="normal" fill="#222" >.83</text>
<text x="414.30" y="27.90" font-size="6.5" text-anchor="middle" font-weight="normal" fill="#222" >Median PFS, mo</text>
<text x="415.20" y="36.00" font-size="6.5" text-anchor="middle" font-weight="normal" fill="#222" >(95% CI)</text>
<text x="456.00" y="27.90" font-size="6.5" text-anchor="middle" font-weight="normal" fill="#222" >HR</text>
<text x="456.00" y="36.00" font-size="6.5" text-anchor="middle" font-weight="normal" fill="#222" >(95% CI)</text>
<text x="495.40" y="27.90" font-size="6.5" text-anchor="middle" font-weight="normal" fill="#222" >1-sided</text>
<text x="495.40" y="36.00" font-size="6.5" text-anchor="middle" fill="#222"><tspan font-style="italic">P</tspan> value</text>
<line x1="383.90" y1="38.60" x2="509.20" y2="38.60" stroke="#444" stroke-width="1.0" />
<line x1="383.90" y1="44.10" x2="394.70" y2="44.10" stroke="#46a045" stroke-width="1.2" />
<line x1="383.90" y1="60.10" x2="394.70" y2="60.10" stroke="#4b96c4" stroke-width="1.2" />
<text x="415.20" y="46.65" font-size="6.5" text-anchor="middle" font-weight="normal" fill="#222" >22.4</text>
<text x="415.20" y="54.50" font-size="6.5" text-anchor="middle" font-weight="normal" fill="#222" >(19.1-33.4)</text>
<text x="415.20" y="62.00" font-size="6.5" text-anchor="middle" font-weight="normal" fill="#222" >33.1</text>
<text x="415.20" y="69.90" font-size="6.5" text-anchor="middle" font-weight="normal" fill="#222" >(27.6-47.0)</text>
<text x="456.00" y="53.70" font-size="6.5" text-anchor="middle" font-weight="normal" fill="#222" >1.29</text>
<text x="456.00" y="61.40" font-size="6.5" text-anchor="middle" font-weight="normal" fill="#222" >(0.97-1.73)</text>
<text x="495.40" y="57.30" font-size="6.5" text-anchor="middle" font-weight="normal" fill="#222" >.96</text>
<text x="87.00" y="327.40" font-size="6.5" text-anchor="middle" font-weight="normal" fill="#222" >Median PFS, mo</text>
<text x="87.90" y="335.90" font-size="6.5" text-anchor="middle" font-weight="normal" fill="#222" >(95% CI)</text>
<text x="128.70" y="327.40" font-size="6.5" text-anchor="middle" font-weight="normal" fill="#222" >HR</text>
<text x="128.70" y="335.90" font-size="6.5" text-anchor="middle" font-weight="normal" fill="#222" >(95% CI)</text>
<text x="168.10" y="327.40" font-size="6.5" text-anchor="middle" font-weight="normal" fill="#222" >1-sided</text>
<text x="168.10" y="335.90" font-size="6.5" text-anchor="middle" fill="#222"><tspan font-style="italic">P</tspan> value</text>
<line x1="56.60" y1="338.30" x2="181.90" y2="338.30" stroke="#444" stroke-width="1.0" />
<line x1="56.60" y1="344.10" x2="67.40" y2="344.10" stroke="#46a045" stroke-width="1.2" />
<line x1="56.60" y1="358.90" x2="67.40" y2="358.90" stroke="#4b96c4" stroke-width="1.2" />
<text x="87.90" y="346.20" font-size="6.5" text-anchor="middle" font-weight="normal" fill="#222" >63.8</text>
<text x="87.90" y="354.20" font-size="6.5" text-anchor="middle" font-weight="normal" fill="#222" >(30.7-NE)</text>
<text x="87.90" y="360.70" font-size="6.5" text-anchor="middle" font-weight="normal" fill="#222" >41.0</text>
<text x="87.90" y="368.70" font-size="6.5" text-anchor="middle" font-weight="normal" fill="#222" >(22.0-NE)</text>
<text x="128.70" y="353.40" font-size="6.5" text-anchor="middle" font-weight="normal" fill="#222" >0.73</text>
<text x="128.70" y="361.00" font-size="6.5" text-anchor="middle" font-weight="normal" fill="#222" >(0.37-1.42)</text>
<text x="168.10" y="356.90" font-size="6.5" text-anchor="middle" font-weight="normal" fill="#222" >.17</text>
<text x="348.90" y="327.20" font-size="6.5" text-anchor="middle" font-weight="normal" fill="#222" >Median OS, mo</text>
<text x="349.80" y="335.70" font-size="6.5" text-anchor="middle" font-weight="normal" fill="#222" >(95% CI)</text>
<text x="390.60" y="327.20" font-size="6.5" text-anchor="middle" font-weight="normal" fill="#222" >HR</text>
<text x="390.60" y="335.70" font-size="6.5" text-anchor="middle" font-weight="normal" fill="#222" >(95% CI)</text>
<text x="430.00" y="327.20" font-size="6.5" text-anchor="middle" font-weight="normal" fill="#222" >1-sided</text>
<text x="430.00" y="335.70" font-size="6.5" text-anchor="middle" fill="#222"><tspan font-style="italic">P</tspan> value</text>
<line x1="318.50" y1="338.10" x2="443.80" y2="338.10" stroke="#444" stroke-width="1.0" />
<line x1="318.50" y1="343.90" x2="329.30" y2="343.90" stroke="#46a045" stroke-width="1.2" />
<line x1="318.50" y1="358.70" x2="329.30" y2="358.70" stroke="#4b96c4" stroke-width="1.2" />
<text x="349.80" y="346.00" font-size="6.5" text-anchor="middle" font-weight="normal" fill="#222" >NE</text>
<text x="349.80" y="354.00" font-size="6.5" text-anchor="middle" font-weight="normal" fill="#222" >(NE-NE)</text>
<text x="349.80" y="360.50" font-size="6.5" text-anchor="middle" font-weight="normal" fill="#222" >NE</text>
<text x="349.80" y="368.50" font-size="6.5" text-anchor="middle" font-weight="normal" fill="#222" >(NE-NE)</text>
<text x="390.60" y="353.20" font-size="6.5" text-anchor="middle" font-weight="normal" fill="#222" >1.13</text>
<text x="390.60" y="360.80" font-size="6.5" text-anchor="middle" font-weight="normal" fill="#222" >(0.80-1.60)</text>
<text x="430.00" y="356.70" font-size="6.5" text-anchor="middle" font-weight="normal" fill="#222" >.76</text>
<polyline points="53.5,24.5 55.0,24.6 58.2,27.7 61.2,30.8 63.5,33.1 67.4,34.2 71.2,36.2 75.0,37.7 78.2,38.8 80.3,40.0 80.8,45.8 84.9,46.6 87.2,49.8 88.0,52.1 89.5,54.4 91.8,56.7 94.9,59.0 96.5,61.4 98.8,62.1 100.4,64.1 101.9,68.0 105.0,69.5 108.0,71.8 110.4,74.9 115.0,76.4 118.0,78.0 121.9,80.3 125.8,81.4 129.6,82.2 130.5,82.7 136.2,85.0 140.0,87.3 143.1,89.6 149.2,92.7 152.3,94.2 156.2,95.4 160.8,96.5 163.1,98.8 170.4,100.4 177.3,101.9 184.2,101.9 185.0,105.8 190.4,106.5 198.0,106.5 203.5,107.3 211.5,107.5 212.5,116.0 222.0,116.0" fill="none" stroke="#46a045" stroke-width="1.25" stroke-linejoin="round"/>
<polyline points="53.5,24.5 63.5,26.2 69.7,27.7 74.3,30.0 74.7,32.7 76.6,33.8 80.3,34.6 80.8,44.5 85.5,45.8 87.5,48.8 88.3,51.4 89.8,53.7 92.0,56.0 95.0,58.3 96.7,60.7 99.0,61.4 100.4,62.4 101.9,66.2 105.0,68.5 108.0,70.1 111.9,70.9 118.0,71.6 121.2,73.2 121.9,75.5 125.8,77.0 129.6,77.8 132.7,79.3 136.2,81.6 137.7,84.7 142.3,87.8 149.2,87.8 152.3,90.1 156.2,90.9 162.3,91.6 165.4,93.9 170.4,95.5 176.5,97.8 184.2,100.5 185.0,104.5 190.4,106.0 204.0,106.5 209.0,107.0 209.5,109.5 240.0,109.5" fill="none" stroke="#4b96c4" stroke-width="1.25" stroke-linejoin="round"/>
<circle cx="55.0" cy="24.8" r="1.4" fill="none" stroke="#222a28" stroke-width="1.05"/>
<circle cx="56.5" cy="25.0" r="1.4" fill="none" stroke="#222a28" stroke-width="1.05"/>
<circle cx="58.0" cy="25.3" r="1.4" fill="none" stroke="#222a28" stroke-width="1.05"/>
<circle cx="59.5" cy="25.5" r="1.4" fill="none" stroke="#222a28" stroke-width="1.05"/>
<circle cx="61.0" cy="25.8" r="1.4" fill="none" stroke="#222a28" stroke-width="1.05"/>
<circle cx="62.5" cy="26.0" r="1.4" fill="none" stroke="#222a28" stroke-width="1.05"/>
<circle cx="64.0" cy="26.3" r="1.4" fill="none" stroke="#222a28" stroke-width="1.05"/>
<circle cx="65.5" cy="26.7" r="1.4" fill="none" stroke="#222a28" stroke-width="1.05"/>
<circle cx="67.0" cy="27.0" r="1.4" fill="none" stroke="#222a28" stroke-width="1.05"/>
<circle cx="68.5" cy="27.4" r="1.4" fill="none" stroke="#222a28" stroke-width="1.05"/>
<circle cx="70.0" cy="27.8" r="1.4" fill="none" stroke="#222a28" stroke-width="1.05"/>
<circle cx="71.5" cy="28.6" r="1.4" fill="none" stroke="#222a28" stroke-width="1.05"/>
<circle cx="73.0" cy="29.4" r="1.4" fill="none" stroke="#222a28" stroke-width="1.05"/>
<circle cx="74.5" cy="31.4" r="1.4" fill="none" stroke="#222a28" stroke-width="1.05"/>
<circle cx="56.0" cy="25.6" r="1.4" fill="none" stroke="#222a28" stroke-width="1.05"/>
<circle cx="57.5" cy="27.0" r="1.4" fill="none" stroke="#222a28" stroke-width="1.05"/>
<circle cx="59.0" cy="28.5" r="1.4" fill="none" stroke="#222a28" stroke-width="1.05"/>
<circle cx="60.5" cy="30.1" r="1.4" fill="none" stroke="#222a28" stroke-width="1.05"/>
<circle cx="62.0" cy="31.6" r="1.4" fill="none" stroke="#222a28" stroke-width="1.05"/>
<circle cx="63.5" cy="33.1" r="1.4" fill="none" stroke="#222a28" stroke-width="1.05"/>
<circle cx="65.0" cy="33.5" r="1.4" fill="none" stroke="#222a28" stroke-width="1.05"/>
<circle cx="66.5" cy="33.9" r="1.4" fill="none" stroke="#222a28" stroke-width="1.05"/>
<circle cx="68.0" cy="34.5" r="1.4" fill="none" stroke="#222a28" stroke-width="1.05"/>
<circle cx="69.5" cy="35.3" r="1.4" fill="none" stroke="#222a28" stroke-width="1.05"/>
<circle cx="71.0" cy="36.1" r="1.4" fill="none" stroke="#222a28" stroke-width="1.05"/>
<circle cx="72.5" cy="36.7" r="1.4" fill="none" stroke="#222a28" stroke-width="1.05"/>
<circle cx="74.0" cy="37.3" r="1.4" fill="none" stroke="#222a28" stroke-width="1.05"/>
<circle cx="75.5" cy="37.9" r="1.4" fill="none" stroke="#222a28" stroke-width="1.05"/>
<circle cx="77.0" cy="38.4" r="1.4" fill="none" stroke="#222a28" stroke-width="1.05"/>
<circle cx="78.5" cy="39.0" r="1.4" fill="none" stroke="#222a28" stroke-width="1.05"/>
<circle cx="80.0" cy="39.8" r="1.4" fill="none" stroke="#222a28" stroke-width="1.05"/>
<circle cx="80.4" cy="38.0" r="1.4" fill="none" stroke="#222a28" stroke-width="1.05"/>
<circle cx="80.5" cy="41.0" r="1.4" fill="none" stroke="#222a28" stroke-width="1.05"/>
<circle cx="80.6" cy="44.0" r="1.4" fill="none" stroke="#222a28" stroke-width="1.05"/>
<circle cx="86.5" cy="48.5" r="1.4" fill="none" stroke="#222a28" stroke-width="1.05"/>
<circle cx="87.8" cy="50.8" r="1.4" fill="none" stroke="#222a28" stroke-width="1.05"/>
<circle cx="88.6" cy="53.0" r="1.4" fill="none" stroke="#222a28" stroke-width="1.05"/>
<circle cx="93.5" cy="57.5" r="1.4" fill="none" stroke="#222a28" stroke-width="1.05"/>
<circle cx="95.8" cy="60.0" r="1.4" fill="none" stroke="#222a28" stroke-width="1.05"/>
<circle cx="96.5" cy="61.2" r="1.4" fill="none" stroke="#222a28" stroke-width="1.05"/>
<circle cx="102.3" cy="69.4" r="1.4" fill="none" stroke="#222a28" stroke-width="1.05"/>
<circle cx="108.0" cy="71.2" r="1.4" fill="none" stroke="#222a28" stroke-width="1.05"/>
<circle cx="107.2" cy="70.3" r="1.4" fill="none" stroke="#222a28" stroke-width="1.05"/>
<circle cx="121.9" cy="74.6" r="1.4" fill="none" stroke="#222a28" stroke-width="1.05"/>
<circle cx="131.5" cy="80.4" r="1.4" fill="none" stroke="#222a28" stroke-width="1.05"/>
<circle cx="134.6" cy="81.5" r="1.4" fill="none" stroke="#222a28" stroke-width="1.05"/>
<circle cx="131.9" cy="80.4" r="1.4" fill="none" stroke="#222a28" stroke-width="1.05"/>
<circle cx="137.7" cy="85.8" r="1.4" fill="none" stroke="#222a28" stroke-width="1.05"/>
<circle cx="142.7" cy="89.2" r="1.4" fill="none" stroke="#222a28" stroke-width="1.05"/>
<circle cx="149.2" cy="88.5" r="1.4" fill="none" stroke="#222a28" stroke-width="1.05"/>
<circle cx="150.4" cy="93.5" r="1.4" fill="none" stroke="#222a28" stroke-width="1.05"/>
<circle cx="156.9" cy="91.2" r="1.4" fill="none" stroke="#222a28" stroke-width="1.05"/>
<circle cx="163.1" cy="91.9" r="1.4" fill="none" stroke="#222a28" stroke-width="1.05"/>
<circle cx="163.8" cy="98.0" r="1.4" fill="none" stroke="#222a28" stroke-width="1.05"/>
<circle cx="165.0" cy="93.6" r="1.4" fill="none" stroke="#222a28" stroke-width="1.05"/>
<circle cx="166.6" cy="94.3" r="1.4" fill="none" stroke="#222a28" stroke-width="1.05"/>
<circle cx="168.2" cy="94.8" r="1.4" fill="none" stroke="#222a28" stroke-width="1.05"/>
<circle cx="169.8" cy="95.3" r="1.4" fill="none" stroke="#222a28" stroke-width="1.05"/>
<circle cx="171.4" cy="95.9" r="1.4" fill="none" stroke="#222a28" stroke-width="1.05"/>
<circle cx="165.0" cy="99.2" r="1.4" fill="none" stroke="#222a28" stroke-width="1.05"/>
<circle cx="166.6" cy="99.6" r="1.4" fill="none" stroke="#222a28" stroke-width="1.05"/>
<circle cx="168.2" cy="99.9" r="1.4" fill="none" stroke="#222a28" stroke-width="1.05"/>
<circle cx="169.8" cy="100.3" r="1.4" fill="none" stroke="#222a28" stroke-width="1.05"/>
<circle cx="171.4" cy="100.6" r="1.4" fill="none" stroke="#222a28" stroke-width="1.05"/>
<circle cx="175.8" cy="97.5" r="1.4" fill="none" stroke="#222a28" stroke-width="1.05"/>
<circle cx="177.4" cy="98.1" r="1.4" fill="none" stroke="#222a28" stroke-width="1.05"/>
<circle cx="179.0" cy="98.7" r="1.4" fill="none" stroke="#222a28" stroke-width="1.05"/>
<circle cx="175.8" cy="101.6" r="1.4" fill="none" stroke="#222a28" stroke-width="1.05"/>
<circle cx="177.4" cy="101.9" r="1.4" fill="none" stroke="#222a28" stroke-width="1.05"/>
<circle cx="179.0" cy="101.9" r="1.4" fill="none" stroke="#222a28" stroke-width="1.05"/>
<circle cx="183.5" cy="101.9" r="1.4" fill="none" stroke="#222a28" stroke-width="1.05"/>
<circle cx="185.0" cy="105.8" r="1.4" fill="none" stroke="#222a28" stroke-width="1.05"/>
<circle cx="186.5" cy="106.0" r="1.4" fill="none" stroke="#222a28" stroke-width="1.05"/>
<circle cx="189.8" cy="106.4" r="1.4" fill="none" stroke="#222a28" stroke-width="1.05"/>
<circle cx="191.3" cy="106.5" r="1.4" fill="none" stroke="#222a28" stroke-width="1.05"/>
<circle cx="196.5" cy="106.5" r="1.4" fill="none" stroke="#222a28" stroke-width="1.05"/>
<circle cx="198.0" cy="106.5" r="1.4" fill="none" stroke="#222a28" stroke-width="1.05"/>
<circle cx="199.5" cy="106.7" r="1.4" fill="none" stroke="#222a28" stroke-width="1.05"/>
<circle cx="203.2" cy="107.3" r="1.4" fill="none" stroke="#222a28" stroke-width="1.05"/>
<circle cx="204.7" cy="107.3" r="1.4" fill="none" stroke="#222a28" stroke-width="1.05"/>
<circle cx="206.2" cy="107.4" r="1.4" fill="none" stroke="#222a28" stroke-width="1.05"/>
<circle cx="211.8" cy="109.5" r="1.4" fill="none" stroke="#222a28" stroke-width="1.05"/>
<circle cx="218.3" cy="109.5" r="1.4" fill="none" stroke="#222a28" stroke-width="1.05"/>
<circle cx="226.8" cy="109.5" r="1.4" fill="none" stroke="#222a28" stroke-width="1.05"/>
<circle cx="232.3" cy="109.5" r="1.4" fill="none" stroke="#222a28" stroke-width="1.05"/>
<circle cx="239.5" cy="109.5" r="1.4" fill="none" stroke="#222a28" stroke-width="1.05"/>
<circle cx="213.0" cy="116.0" r="1.4" fill="none" stroke="#222a28" stroke-width="1.05"/>
<circle cx="219.5" cy="116.0" r="1.4" fill="none" stroke="#222a28" stroke-width="1.05"/>
<circle cx="221.5" cy="116.0" r="1.4" fill="none" stroke="#222a28" stroke-width="1.05"/>
<circle cx="211.0" cy="107.2" r="1.4" fill="none" stroke="#222a28" stroke-width="1.05"/>
<polyline points="314.5,24.5 316.0,25.4 320.7,30.0 321.0,31.5 324.5,33.1 328.4,35.4 332.2,37.7 335.3,39.2 338.4,41.5 341.5,45.4 342.2,46.9 343.9,50.9 347.1,52.8 349.0,63.6 352.1,67.3 355.3,72.7 361.3,73.9 363.8,77.7 368.9,79.6 371.4,84.7 377.7,87.2 386.6,89.1 395.4,90.4 397.9,95.4 403.0,97.3 410.6,100.5 415.6,104.2 422.6,104.7 425.1,107.8 436.5,108.5 440.3,111.6 480.0,111.6" fill="none" stroke="#46a045" stroke-width="1.25" stroke-linejoin="round"/>
<polyline points="314.5,24.5 320.7,25.8 328.4,27.7 334.5,30.0 336.1,32.3 338.4,34.6 341.5,36.2 342.2,40.0 345.3,43.1 348.4,46.9 349.6,51.6 354.7,54.1 356.6,57.9 361.0,59.8 363.2,67.6 367.6,70.2 370.2,71.2 381.5,71.4 384.0,77.1 389.1,79.0 394.1,81.5 396.7,85.3 405.5,89.1 415.0,90.8 422.6,90.8 427.6,93.3 435.2,95.2 441.5,97.7 445.3,99.0 446.6,103.4 450.4,106.6 463.0,107.2 465.5,111.0 488.0,111.0" fill="none" stroke="#4b96c4" stroke-width="1.25" stroke-linejoin="round"/>
<circle cx="316.0" cy="24.8" r="1.4" fill="none" stroke="#222a28" stroke-width="1.05"/>
<circle cx="317.6" cy="25.2" r="1.4" fill="none" stroke="#222a28" stroke-width="1.05"/>
<circle cx="319.2" cy="25.5" r="1.4" fill="none" stroke="#222a28" stroke-width="1.05"/>
<circle cx="320.8" cy="25.8" r="1.4" fill="none" stroke="#222a28" stroke-width="1.05"/>
<circle cx="322.4" cy="26.2" r="1.4" fill="none" stroke="#222a28" stroke-width="1.05"/>
<circle cx="324.0" cy="26.6" r="1.4" fill="none" stroke="#222a28" stroke-width="1.05"/>
<circle cx="325.6" cy="27.0" r="1.4" fill="none" stroke="#222a28" stroke-width="1.05"/>
<circle cx="327.2" cy="27.4" r="1.4" fill="none" stroke="#222a28" stroke-width="1.05"/>
<circle cx="328.8" cy="27.9" r="1.4" fill="none" stroke="#222a28" stroke-width="1.05"/>
<circle cx="330.4" cy="28.5" r="1.4" fill="none" stroke="#222a28" stroke-width="1.05"/>
<circle cx="332.0" cy="29.1" r="1.4" fill="none" stroke="#222a28" stroke-width="1.05"/>
<circle cx="333.6" cy="29.7" r="1.4" fill="none" stroke="#222a28" stroke-width="1.05"/>
<circle cx="335.2" cy="31.0" r="1.4" fill="none" stroke="#222a28" stroke-width="1.05"/>
<circle cx="316.5" cy="25.9" r="1.4" fill="none" stroke="#222a28" stroke-width="1.05"/>
<circle cx="318.1" cy="27.5" r="1.4" fill="none" stroke="#222a28" stroke-width="1.05"/>
<circle cx="319.7" cy="29.0" r="1.4" fill="none" stroke="#222a28" stroke-width="1.05"/>
<circle cx="321.3" cy="31.6" r="1.4" fill="none" stroke="#222a28" stroke-width="1.05"/>
<circle cx="322.9" cy="32.4" r="1.4" fill="none" stroke="#222a28" stroke-width="1.05"/>
<circle cx="324.5" cy="33.1" r="1.4" fill="none" stroke="#222a28" stroke-width="1.05"/>
<circle cx="326.1" cy="34.0" r="1.4" fill="none" stroke="#222a28" stroke-width="1.05"/>
<circle cx="327.7" cy="35.0" r="1.4" fill="none" stroke="#222a28" stroke-width="1.05"/>
<circle cx="329.3" cy="35.9" r="1.4" fill="none" stroke="#222a28" stroke-width="1.05"/>
<circle cx="330.9" cy="36.9" r="1.4" fill="none" stroke="#222a28" stroke-width="1.05"/>
<circle cx="332.5" cy="37.8" r="1.4" fill="none" stroke="#222a28" stroke-width="1.05"/>
<circle cx="334.1" cy="38.6" r="1.4" fill="none" stroke="#222a28" stroke-width="1.05"/>
<circle cx="335.7" cy="39.5" r="1.4" fill="none" stroke="#222a28" stroke-width="1.05"/>
<circle cx="337.3" cy="40.7" r="1.4" fill="none" stroke="#222a28" stroke-width="1.05"/>
<circle cx="338.9" cy="42.1" r="1.4" fill="none" stroke="#222a28" stroke-width="1.05"/>
<circle cx="340.5" cy="44.1" r="1.4" fill="none" stroke="#222a28" stroke-width="1.05"/>
<circle cx="342.2" cy="40.0" r="1.4" fill="none" stroke="#222a28" stroke-width="1.05"/>
<circle cx="349.0" cy="49.2" r="1.4" fill="none" stroke="#222a28" stroke-width="1.05"/>
<circle cx="355.0" cy="54.7" r="1.4" fill="none" stroke="#222a28" stroke-width="1.05"/>
<circle cx="361.0" cy="59.8" r="1.4" fill="none" stroke="#222a28" stroke-width="1.05"/>
<circle cx="352.0" cy="67.2" r="1.4" fill="none" stroke="#222a28" stroke-width="1.05"/>
<circle cx="362.0" cy="75.0" r="1.4" fill="none" stroke="#222a28" stroke-width="1.05"/>
<circle cx="369.0" cy="79.8" r="1.4" fill="none" stroke="#222a28" stroke-width="1.05"/>
<circle cx="370.0" cy="71.1" r="1.4" fill="none" stroke="#222a28" stroke-width="1.05"/>
<circle cx="392.0" cy="80.4" r="1.4" fill="none" stroke="#222a28" stroke-width="1.05"/>
<circle cx="417.6" cy="90.8" r="1.4" fill="none" stroke="#222a28" stroke-width="1.05"/>
<circle cx="421.8" cy="90.8" r="1.4" fill="none" stroke="#222a28" stroke-width="1.05"/>
<circle cx="423.2" cy="91.1" r="1.4" fill="none" stroke="#222a28" stroke-width="1.05"/>
<circle cx="430.8" cy="94.1" r="1.4" fill="none" stroke="#222a28" stroke-width="1.05"/>
<circle cx="436.4" cy="95.7" r="1.4" fill="none" stroke="#222a28" stroke-width="1.05"/>
<circle cx="438.0" cy="96.3" r="1.4" fill="none" stroke="#222a28" stroke-width="1.05"/>
<circle cx="443.6" cy="98.4" r="1.4" fill="none" stroke="#222a28" stroke-width="1.05"/>
<circle cx="445.0" cy="98.9" r="1.4" fill="none" stroke="#222a28" stroke-width="1.05"/>
<circle cx="451.6" cy="106.7" r="1.4" fill="none" stroke="#222a28" stroke-width="1.05"/>
<circle cx="458.5" cy="107.0" r="1.4" fill="none" stroke="#222a28" stroke-width="1.05"/>
<circle cx="462.5" cy="107.2" r="1.4" fill="none" stroke="#222a28" stroke-width="1.05"/>
<circle cx="466.2" cy="111.0" r="1.4" fill="none" stroke="#222a28" stroke-width="1.05"/>
<circle cx="468.0" cy="111.0" r="1.4" fill="none" stroke="#222a28" stroke-width="1.05"/>
<circle cx="473.5" cy="111.0" r="1.4" fill="none" stroke="#222a28" stroke-width="1.05"/>
<circle cx="475.0" cy="111.0" r="1.4" fill="none" stroke="#222a28" stroke-width="1.05"/>
<circle cx="480.5" cy="111.0" r="1.4" fill="none" stroke="#222a28" stroke-width="1.05"/>
<circle cx="488.0" cy="111.0" r="1.4" fill="none" stroke="#222a28" stroke-width="1.05"/>
<circle cx="409.5" cy="100.0" r="1.4" fill="none" stroke="#222a28" stroke-width="1.05"/>
<circle cx="412.5" cy="101.9" r="1.4" fill="none" stroke="#222a28" stroke-width="1.05"/>
<circle cx="415.5" cy="104.1" r="1.4" fill="none" stroke="#222a28" stroke-width="1.05"/>
<circle cx="423.2" cy="105.4" r="1.4" fill="none" stroke="#222a28" stroke-width="1.05"/>
<circle cx="425.2" cy="107.8" r="1.4" fill="none" stroke="#222a28" stroke-width="1.05"/>
<circle cx="426.5" cy="107.9" r="1.4" fill="none" stroke="#222a28" stroke-width="1.05"/>
<circle cx="431.4" cy="108.2" r="1.4" fill="none" stroke="#222a28" stroke-width="1.05"/>
<circle cx="437.8" cy="109.6" r="1.4" fill="none" stroke="#222a28" stroke-width="1.05"/>
<circle cx="444.5" cy="111.6" r="1.4" fill="none" stroke="#222a28" stroke-width="1.05"/>
<circle cx="446.2" cy="111.6" r="1.4" fill="none" stroke="#222a28" stroke-width="1.05"/>
<circle cx="459.0" cy="111.6" r="1.4" fill="none" stroke="#222a28" stroke-width="1.05"/>
<circle cx="465.2" cy="111.6" r="1.4" fill="none" stroke="#222a28" stroke-width="1.05"/>
<circle cx="470.0" cy="111.6" r="1.4" fill="none" stroke="#222a28" stroke-width="1.05"/>
<circle cx="478.5" cy="111.6" r="1.4" fill="none" stroke="#222a28" stroke-width="1.05"/>
<polyline points="53.3,252.0 62.5,252.0 62.5,254.5 68.0,254.5 68.0,255.7 76.5,255.7 76.5,259.5 88.0,259.5 88.0,265.8 95.0,265.8 95.0,274.3 101.5,274.3 101.5,278.6 109.5,278.6 109.5,282.2 115.5,282.2 115.5,286.5 130.0,286.5 130.0,290.9 156.0,290.9 156.0,294.5 157.3,294.5 157.3,299.1 182.6,299.1 182.6,305.9 212.8,305.9 212.8,339.2" fill="none" stroke="#46a045" stroke-width="1.25" stroke-linejoin="round"/>
<polyline points="53.3,252.0 62.5,252.0 62.5,254.5 68.0,254.5 68.0,255.7 76.5,255.7 76.5,260.0 79.5,260.0 79.5,265.2 88.0,265.2 88.0,279.1 91.0,279.1 91.0,281.6 93.5,281.6 93.5,285.4 96.0,285.4 96.0,288.6 100.0,288.6 100.0,291.7 108.5,291.7 108.5,297.8 129.3,297.8 129.3,304.0 132.5,304.0 132.5,306.7 136.0,306.7 136.0,311.5 155.8,311.5 155.8,315.0 178.2,315.0 178.2,319.5 233.0,319.5" fill="none" stroke="#4b96c4" stroke-width="1.25" stroke-linejoin="round"/>
<circle cx="58.0" cy="252.0" r="1.4" fill="none" stroke="#222a28" stroke-width="1.05"/>
<circle cx="61.0" cy="252.0" r="1.4" fill="none" stroke="#222a28" stroke-width="1.05"/>
<circle cx="64.5" cy="254.5" r="1.4" fill="none" stroke="#222a28" stroke-width="1.05"/>
<circle cx="67.0" cy="254.5" r="1.4" fill="none" stroke="#222a28" stroke-width="1.05"/>
<circle cx="70.0" cy="255.7" r="1.4" fill="none" stroke="#222a28" stroke-width="1.05"/>
<circle cx="73.0" cy="255.7" r="1.4" fill="none" stroke="#222a28" stroke-width="1.05"/>
<circle cx="75.5" cy="255.7" r="1.4" fill="none" stroke="#222a28" stroke-width="1.05"/>
<circle cx="81.0" cy="259.5" r="1.4" fill="none" stroke="#222a28" stroke-width="1.05"/>
<circle cx="108.0" cy="278.6" r="1.4" fill="none" stroke="#222a28" stroke-width="1.05"/>
<circle cx="151.0" cy="290.9" r="1.4" fill="none" stroke="#222a28" stroke-width="1.05"/>
<circle cx="163.7" cy="299.1" r="1.4" fill="none" stroke="#222a28" stroke-width="1.05"/>
<circle cx="177.6" cy="299.1" r="1.4" fill="none" stroke="#222a28" stroke-width="1.05"/>
<circle cx="190.2" cy="305.9" r="1.4" fill="none" stroke="#222a28" stroke-width="1.05"/>
<circle cx="197.8" cy="305.9" r="1.4" fill="none" stroke="#222a28" stroke-width="1.05"/>
<circle cx="201.6" cy="305.9" r="1.4" fill="none" stroke="#222a28" stroke-width="1.05"/>
<circle cx="205.4" cy="305.9" r="1.4" fill="none" stroke="#222a28" stroke-width="1.05"/>
<circle cx="212.5" cy="339.2" r="1.4" fill="none" stroke="#222a28" stroke-width="1.05"/>
<circle cx="80.4" cy="265.2" r="1.4" fill="none" stroke="#222a28" stroke-width="1.05"/>
<circle cx="94.8" cy="285.4" r="1.4" fill="none" stroke="#222a28" stroke-width="1.05"/>
<circle cx="96.6" cy="288.6" r="1.4" fill="none" stroke="#222a28" stroke-width="1.05"/>
<circle cx="122.0" cy="297.8" r="1.4" fill="none" stroke="#222a28" stroke-width="1.05"/>
<circle cx="138.4" cy="311.5" r="1.4" fill="none" stroke="#222a28" stroke-width="1.05"/>
<circle cx="158.6" cy="315.0" r="1.4" fill="none" stroke="#222a28" stroke-width="1.05"/>
<circle cx="164.3" cy="315.0" r="1.4" fill="none" stroke="#222a28" stroke-width="1.05"/>
<circle cx="171.2" cy="315.0" r="1.4" fill="none" stroke="#222a28" stroke-width="1.05"/>
<circle cx="178.2" cy="315.0" r="1.4" fill="none" stroke="#222a28" stroke-width="1.05"/>
<circle cx="178.2" cy="319.5" r="1.4" fill="none" stroke="#222a28" stroke-width="1.05"/>
<circle cx="190.8" cy="319.5" r="1.4" fill="none" stroke="#222a28" stroke-width="1.05"/>
<circle cx="197.8" cy="319.5" r="1.4" fill="none" stroke="#222a28" stroke-width="1.05"/>
<circle cx="211.7" cy="319.5" r="1.4" fill="none" stroke="#222a28" stroke-width="1.05"/>
<circle cx="218.6" cy="319.5" r="1.4" fill="none" stroke="#222a28" stroke-width="1.05"/>
<circle cx="226.7" cy="319.5" r="1.4" fill="none" stroke="#222a28" stroke-width="1.05"/>
<circle cx="232.6" cy="319.5" r="1.4" fill="none" stroke="#222a28" stroke-width="1.05"/>
<polyline points="314.2,252.0 318.4,252.9 320.7,254.5 324.5,256.8 332.2,257.5 336.1,258.3 341.5,259.8 345.3,261.4 350.0,263.2 354.6,264.3 361.5,265.6 366.0,266.0 370.0,266.6 373.1,268.0 383.1,269.2 390.2,270.0 399.0,271.3 405.3,272.5 412.9,274.4 416.7,275.7 425.5,277.0 431.8,278.9 440.0,281.4 444.2,282.4 454.6,286.5 467.3,289.2 470.2,290.0 477.7,290.0 478.3,292.3 506.0,292.3" fill="none" stroke="#46a045" stroke-width="1.25" stroke-linejoin="round"/>
<polyline points="314.2,252.0 314.9,251.3 320.7,251.0 325.3,251.8 332.2,253.7 336.1,254.5 343.8,255.6 349.9,256.8 356.2,258.9 360.0,260.8 363.1,263.3 366.9,263.7 373.1,265.3 379.2,266.0 383.1,267.2 390.2,268.8 399.0,270.3 405.3,271.5 412.9,273.4 416.7,274.7 425.5,276.0 431.8,277.9 440.0,280.4 444.2,281.4 453.5,283.7 455.0,284.9 506.0,285.0" fill="none" stroke="#4b96c4" stroke-width="1.25" stroke-linejoin="round"/>
<circle cx="315.5" cy="251.3" r="1.4" fill="none" stroke="#222a28" stroke-width="1.05"/>
<circle cx="317.5" cy="251.2" r="1.4" fill="none" stroke="#222a28" stroke-width="1.05"/>
<circle cx="319.5" cy="251.1" r="1.4" fill="none" stroke="#222a28" stroke-width="1.05"/>
<circle cx="321.5" cy="251.1" r="1.4" fill="none" stroke="#222a28" stroke-width="1.05"/>
<circle cx="323.5" cy="251.5" r="1.4" fill="none" stroke="#222a28" stroke-width="1.05"/>
<circle cx="325.5" cy="251.9" r="1.4" fill="none" stroke="#222a28" stroke-width="1.05"/>
<circle cx="327.5" cy="252.4" r="1.4" fill="none" stroke="#222a28" stroke-width="1.05"/>
<circle cx="329.5" cy="253.0" r="1.4" fill="none" stroke="#222a28" stroke-width="1.05"/>
<circle cx="331.5" cy="253.5" r="1.4" fill="none" stroke="#222a28" stroke-width="1.05"/>
<circle cx="333.5" cy="254.0" r="1.4" fill="none" stroke="#222a28" stroke-width="1.05"/>
<circle cx="335.5" cy="254.4" r="1.4" fill="none" stroke="#222a28" stroke-width="1.05"/>
<circle cx="315.5" cy="252.3" r="1.4" fill="none" stroke="#222a28" stroke-width="1.05"/>
<circle cx="317.5" cy="252.7" r="1.4" fill="none" stroke="#222a28" stroke-width="1.05"/>
<circle cx="319.5" cy="253.7" r="1.4" fill="none" stroke="#222a28" stroke-width="1.05"/>
<circle cx="321.5" cy="255.0" r="1.4" fill="none" stroke="#222a28" stroke-width="1.05"/>
<circle cx="323.5" cy="256.2" r="1.4" fill="none" stroke="#222a28" stroke-width="1.05"/>
<circle cx="325.5" cy="256.9" r="1.4" fill="none" stroke="#222a28" stroke-width="1.05"/>
<circle cx="327.5" cy="257.1" r="1.4" fill="none" stroke="#222a28" stroke-width="1.05"/>
<circle cx="329.5" cy="257.3" r="1.4" fill="none" stroke="#222a28" stroke-width="1.05"/>
<circle cx="331.5" cy="257.4" r="1.4" fill="none" stroke="#222a28" stroke-width="1.05"/>
<circle cx="333.5" cy="257.8" r="1.4" fill="none" stroke="#222a28" stroke-width="1.05"/>
<circle cx="335.5" cy="258.2" r="1.4" fill="none" stroke="#222a28" stroke-width="1.05"/>
<circle cx="337.5" cy="258.7" r="1.4" fill="none" stroke="#222a28" stroke-width="1.05"/>
<circle cx="339.5" cy="259.2" r="1.4" fill="none" stroke="#222a28" stroke-width="1.05"/>
<circle cx="341.5" cy="259.8" r="1.4" fill="none" stroke="#222a28" stroke-width="1.05"/>
<circle cx="348.8" cy="256.6" r="1.4" fill="none" stroke="#222a28" stroke-width="1.05"/>
<circle cx="350.8" cy="257.1" r="1.4" fill="none" stroke="#222a28" stroke-width="1.05"/>
<circle cx="356.2" cy="258.9" r="1.4" fill="none" stroke="#222a28" stroke-width="1.05"/>
<circle cx="354.6" cy="264.3" r="1.4" fill="none" stroke="#222a28" stroke-width="1.05"/>
<circle cx="362.7" cy="265.7" r="1.4" fill="none" stroke="#222a28" stroke-width="1.05"/>
<circle cx="366.5" cy="266.1" r="1.4" fill="none" stroke="#222a28" stroke-width="1.05"/>
<circle cx="368.5" cy="266.4" r="1.4" fill="none" stroke="#222a28" stroke-width="1.05"/>
<circle cx="383.1" cy="269.2" r="1.4" fill="none" stroke="#222a28" stroke-width="1.05"/>
<circle cx="399.0" cy="271.3" r="1.4" fill="none" stroke="#222a28" stroke-width="1.05"/>
<circle cx="405.0" cy="272.4" r="1.4" fill="none" stroke="#222a28" stroke-width="1.05"/>
<circle cx="417.0" cy="274.7" r="1.4" fill="none" stroke="#222a28" stroke-width="1.05"/>
<circle cx="418.3" cy="274.9" r="1.4" fill="none" stroke="#222a28" stroke-width="1.05"/>
<circle cx="419.6" cy="275.1" r="1.4" fill="none" stroke="#222a28" stroke-width="1.05"/>
<circle cx="420.9" cy="275.3" r="1.4" fill="none" stroke="#222a28" stroke-width="1.05"/>
<circle cx="422.2" cy="275.5" r="1.4" fill="none" stroke="#222a28" stroke-width="1.05"/>
<circle cx="423.5" cy="275.7" r="1.4" fill="none" stroke="#222a28" stroke-width="1.05"/>
<circle cx="424.8" cy="275.9" r="1.4" fill="none" stroke="#222a28" stroke-width="1.05"/>
<circle cx="426.1" cy="276.2" r="1.4" fill="none" stroke="#222a28" stroke-width="1.05"/>
<circle cx="427.4" cy="276.6" r="1.4" fill="none" stroke="#222a28" stroke-width="1.05"/>
<circle cx="428.7" cy="277.0" r="1.4" fill="none" stroke="#222a28" stroke-width="1.05"/>
<circle cx="430.0" cy="277.4" r="1.4" fill="none" stroke="#222a28" stroke-width="1.05"/>
<circle cx="431.3" cy="277.7" r="1.4" fill="none" stroke="#222a28" stroke-width="1.05"/>
<circle cx="432.6" cy="278.1" r="1.4" fill="none" stroke="#222a28" stroke-width="1.05"/>
<circle cx="433.9" cy="278.5" r="1.4" fill="none" stroke="#222a28" stroke-width="1.05"/>
<circle cx="435.2" cy="278.9" r="1.4" fill="none" stroke="#222a28" stroke-width="1.05"/>
<circle cx="436.5" cy="279.3" r="1.4" fill="none" stroke="#222a28" stroke-width="1.05"/>
<circle cx="437.8" cy="279.7" r="1.4" fill="none" stroke="#222a28" stroke-width="1.05"/>
<circle cx="439.1" cy="280.1" r="1.4" fill="none" stroke="#222a28" stroke-width="1.05"/>
<circle cx="440.4" cy="280.5" r="1.4" fill="none" stroke="#222a28" stroke-width="1.05"/>
<circle cx="441.7" cy="280.8" r="1.4" fill="none" stroke="#222a28" stroke-width="1.05"/>
<circle cx="443.0" cy="281.1" r="1.4" fill="none" stroke="#222a28" stroke-width="1.05"/>
<circle cx="444.3" cy="281.4" r="1.4" fill="none" stroke="#222a28" stroke-width="1.05"/>
<circle cx="445.6" cy="281.7" r="1.4" fill="none" stroke="#222a28" stroke-width="1.05"/>
<circle cx="446.9" cy="282.1" r="1.4" fill="none" stroke="#222a28" stroke-width="1.05"/>
<circle cx="448.2" cy="282.4" r="1.4" fill="none" stroke="#222a28" stroke-width="1.05"/>
<circle cx="449.5" cy="282.7" r="1.4" fill="none" stroke="#222a28" stroke-width="1.05"/>
<circle cx="450.8" cy="283.0" r="1.4" fill="none" stroke="#222a28" stroke-width="1.05"/>
<circle cx="452.1" cy="283.4" r="1.4" fill="none" stroke="#222a28" stroke-width="1.05"/>
<circle cx="453.4" cy="283.7" r="1.4" fill="none" stroke="#222a28" stroke-width="1.05"/>
<circle cx="454.7" cy="284.7" r="1.4" fill="none" stroke="#222a28" stroke-width="1.05"/>
<circle cx="417.0" cy="275.7" r="1.4" fill="none" stroke="#222a28" stroke-width="1.05"/>
<circle cx="418.3" cy="275.9" r="1.4" fill="none" stroke="#222a28" stroke-width="1.05"/>
<circle cx="419.6" cy="276.1" r="1.4" fill="none" stroke="#222a28" stroke-width="1.05"/>
<circle cx="420.9" cy="276.3" r="1.4" fill="none" stroke="#222a28" stroke-width="1.05"/>
<circle cx="422.2" cy="276.5" r="1.4" fill="none" stroke="#222a28" stroke-width="1.05"/>
<circle cx="423.5" cy="276.7" r="1.4" fill="none" stroke="#222a28" stroke-width="1.05"/>
<circle cx="424.8" cy="276.9" r="1.4" fill="none" stroke="#222a28" stroke-width="1.05"/>
<circle cx="426.1" cy="277.2" r="1.4" fill="none" stroke="#222a28" stroke-width="1.05"/>
<circle cx="427.4" cy="277.6" r="1.4" fill="none" stroke="#222a28" stroke-width="1.05"/>
<circle cx="428.7" cy="278.0" r="1.4" fill="none" stroke="#222a28" stroke-width="1.05"/>
<circle cx="430.0" cy="278.4" r="1.4" fill="none" stroke="#222a28" stroke-width="1.05"/>
<circle cx="431.3" cy="278.7" r="1.4" fill="none" stroke="#222a28" stroke-width="1.05"/>
<circle cx="432.6" cy="279.1" r="1.4" fill="none" stroke="#222a28" stroke-width="1.05"/>
<circle cx="433.9" cy="279.5" r="1.4" fill="none" stroke="#222a28" stroke-width="1.05"/>
<circle cx="435.2" cy="279.9" r="1.4" fill="none" stroke="#222a28" stroke-width="1.05"/>
<circle cx="436.5" cy="280.3" r="1.4" fill="none" stroke="#222a28" stroke-width="1.05"/>
<circle cx="437.8" cy="280.7" r="1.4" fill="none" stroke="#222a28" stroke-width="1.05"/>
<circle cx="439.1" cy="281.1" r="1.4" fill="none" stroke="#222a28" stroke-width="1.05"/>
<circle cx="440.4" cy="281.5" r="1.4" fill="none" stroke="#222a28" stroke-width="1.05"/>
<circle cx="441.7" cy="281.8" r="1.4" fill="none" stroke="#222a28" stroke-width="1.05"/>
<circle cx="443.0" cy="282.1" r="1.4" fill="none" stroke="#222a28" stroke-width="1.05"/>
<circle cx="444.3" cy="282.4" r="1.4" fill="none" stroke="#222a28" stroke-width="1.05"/>
<circle cx="445.6" cy="283.0" r="1.4" fill="none" stroke="#222a28" stroke-width="1.05"/>
<circle cx="446.9" cy="283.5" r="1.4" fill="none" stroke="#222a28" stroke-width="1.05"/>
<circle cx="448.2" cy="284.0" r="1.4" fill="none" stroke="#222a28" stroke-width="1.05"/>
<circle cx="449.5" cy="284.5" r="1.4" fill="none" stroke="#222a28" stroke-width="1.05"/>
<circle cx="450.8" cy="285.0" r="1.4" fill="none" stroke="#222a28" stroke-width="1.05"/>
<circle cx="452.1" cy="285.5" r="1.4" fill="none" stroke="#222a28" stroke-width="1.05"/>
<circle cx="453.4" cy="286.0" r="1.4" fill="none" stroke="#222a28" stroke-width="1.05"/>
<circle cx="454.7" cy="286.5" r="1.4" fill="none" stroke="#222a28" stroke-width="1.05"/>
<circle cx="455.0" cy="284.9" r="1.4" fill="none" stroke="#222a28" stroke-width="1.05"/>
<circle cx="456.4" cy="284.9" r="1.4" fill="none" stroke="#222a28" stroke-width="1.05"/>
<circle cx="457.8" cy="284.9" r="1.4" fill="none" stroke="#222a28" stroke-width="1.05"/>
<circle cx="459.2" cy="284.9" r="1.4" fill="none" stroke="#222a28" stroke-width="1.05"/>
<circle cx="460.6" cy="284.9" r="1.4" fill="none" stroke="#222a28" stroke-width="1.05"/>
<circle cx="462.0" cy="284.9" r="1.4" fill="none" stroke="#222a28" stroke-width="1.05"/>
<circle cx="463.4" cy="284.9" r="1.4" fill="none" stroke="#222a28" stroke-width="1.05"/>
<circle cx="464.8" cy="284.9" r="1.4" fill="none" stroke="#222a28" stroke-width="1.05"/>
<circle cx="466.2" cy="284.9" r="1.4" fill="none" stroke="#222a28" stroke-width="1.05"/>
<circle cx="467.6" cy="284.9" r="1.4" fill="none" stroke="#222a28" stroke-width="1.05"/>
<circle cx="469.0" cy="284.9" r="1.4" fill="none" stroke="#222a28" stroke-width="1.05"/>
<circle cx="470.4" cy="284.9" r="1.4" fill="none" stroke="#222a28" stroke-width="1.05"/>
<circle cx="471.8" cy="284.9" r="1.4" fill="none" stroke="#222a28" stroke-width="1.05"/>
<circle cx="473.2" cy="284.9" r="1.4" fill="none" stroke="#222a28" stroke-width="1.05"/>
<circle cx="474.6" cy="284.9" r="1.4" fill="none" stroke="#222a28" stroke-width="1.05"/>
<circle cx="476.0" cy="284.9" r="1.4" fill="none" stroke="#222a28" stroke-width="1.05"/>
<circle cx="477.4" cy="284.9" r="1.4" fill="none" stroke="#222a28" stroke-width="1.05"/>
<circle cx="478.8" cy="284.9" r="1.4" fill="none" stroke="#222a28" stroke-width="1.05"/>
<circle cx="480.2" cy="284.9" r="1.4" fill="none" stroke="#222a28" stroke-width="1.05"/>
<circle cx="483.0" cy="285.0" r="1.4" fill="none" stroke="#222a28" stroke-width="1.05"/>
<circle cx="485.9" cy="285.0" r="1.4" fill="none" stroke="#222a28" stroke-width="1.05"/>
<circle cx="488.8" cy="285.0" r="1.4" fill="none" stroke="#222a28" stroke-width="1.05"/>
<circle cx="491.7" cy="285.0" r="1.4" fill="none" stroke="#222a28" stroke-width="1.05"/>
<circle cx="494.6" cy="285.0" r="1.4" fill="none" stroke="#222a28" stroke-width="1.05"/>
<circle cx="497.5" cy="285.0" r="1.4" fill="none" stroke="#222a28" stroke-width="1.05"/>
<circle cx="500.4" cy="285.0" r="1.4" fill="none" stroke="#222a28" stroke-width="1.05"/>
<circle cx="503.3" cy="285.0" r="1.4" fill="none" stroke="#222a28" stroke-width="1.05"/>
<circle cx="456.0" cy="286.8" r="1.4" fill="none" stroke="#222a28" stroke-width="1.05"/>
<circle cx="457.8" cy="287.2" r="1.4" fill="none" stroke="#222a28" stroke-width="1.05"/>
<circle cx="459.6" cy="287.6" r="1.4" fill="none" stroke="#222a28" stroke-width="1.05"/>
<circle cx="461.4" cy="287.9" r="1.4" fill="none" stroke="#222a28" stroke-width="1.05"/>
<circle cx="463.2" cy="288.3" r="1.4" fill="none" stroke="#222a28" stroke-width="1.05"/>
<circle cx="465.0" cy="288.7" r="1.4" fill="none" stroke="#222a28" stroke-width="1.05"/>
<circle cx="466.8" cy="289.1" r="1.4" fill="none" stroke="#222a28" stroke-width="1.05"/>
<circle cx="469.0" cy="289.7" r="1.4" fill="none" stroke="#222a28" stroke-width="1.05"/>
<circle cx="470.4" cy="290.0" r="1.4" fill="none" stroke="#222a28" stroke-width="1.05"/>
<circle cx="471.8" cy="290.0" r="1.4" fill="none" stroke="#222a28" stroke-width="1.05"/>
<circle cx="473.2" cy="290.0" r="1.4" fill="none" stroke="#222a28" stroke-width="1.05"/>
<circle cx="474.6" cy="290.0" r="1.4" fill="none" stroke="#222a28" stroke-width="1.05"/>
<circle cx="476.0" cy="290.0" r="1.4" fill="none" stroke="#222a28" stroke-width="1.05"/>
<circle cx="477.4" cy="290.0" r="1.4" fill="none" stroke="#222a28" stroke-width="1.05"/>
<circle cx="478.8" cy="292.3" r="1.4" fill="none" stroke="#222a28" stroke-width="1.05"/>
<circle cx="480.2" cy="292.3" r="1.4" fill="none" stroke="#222a28" stroke-width="1.05"/>
<circle cx="481.6" cy="292.3" r="1.4" fill="none" stroke="#222a28" stroke-width="1.05"/>
<circle cx="483.0" cy="292.3" r="1.4" fill="none" stroke="#222a28" stroke-width="1.05"/>
<circle cx="484.4" cy="292.3" r="1.4" fill="none" stroke="#222a28" stroke-width="1.05"/>
<circle cx="485.8" cy="292.3" r="1.4" fill="none" stroke="#222a28" stroke-width="1.05"/>
<circle cx="487.2" cy="292.3" r="1.4" fill="none" stroke="#222a28" stroke-width="1.05"/>
<circle cx="488.6" cy="292.3" r="1.4" fill="none" stroke="#222a28" stroke-width="1.05"/>
<circle cx="490.0" cy="292.3" r="1.4" fill="none" stroke="#222a28" stroke-width="1.05"/>
<circle cx="491.4" cy="292.3" r="1.4" fill="none" stroke="#222a28" stroke-width="1.05"/>
<circle cx="492.8" cy="292.3" r="1.4" fill="none" stroke="#222a28" stroke-width="1.05"/>
<circle cx="496.0" cy="292.3" r="1.4" fill="none" stroke="#222a28" stroke-width="1.05"/>
<circle cx="498.9" cy="292.3" r="1.4" fill="none" stroke="#222a28" stroke-width="1.05"/>
<circle cx="501.8" cy="292.3" r="1.4" fill="none" stroke="#222a28" stroke-width="1.05"/>
<circle cx="504.7" cy="292.3" r="1.4" fill="none" stroke="#222a28" stroke-width="1.05"/>
<rect x="0" y="0" width="520" height="1.05" fill="#565656"/>
<rect x="0" y="0" width="1.15" height="436" fill="#606060"/>
<rect x="518.2" y="0" width="1.4" height="436" fill="#404040"/>
<rect x="0" y="434.6" width="520" height="1.4" fill="#353535"/>
</svg>
</body></html>
